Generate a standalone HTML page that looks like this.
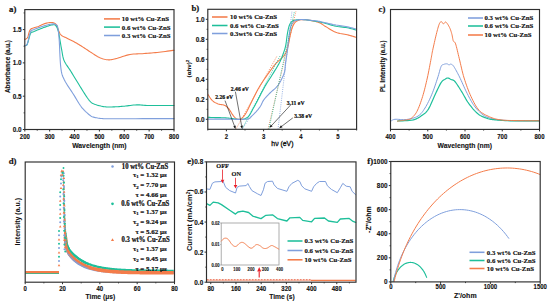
<!DOCTYPE html>
<html><head><meta charset="utf-8"><style>
html,body{margin:0;padding:0;background:#fff;}
svg{display:block;}
</style></head><body>
<svg width="550" height="304" viewBox="0 0 550 304">
<rect width="550" height="304" fill="#fff"/>
<text x="0" y="0" transform="translate(9.00,11.60) scale(1,0.95)" text-anchor="start" style="font-family:'Liberation Serif',serif;font-weight:bold;font-size:8.8px" fill="#111" stroke="#111" stroke-width="0.2" >a)</text>
<path d="M24.80,39.38 L24.89,39.35 L25.01,39.33 L25.15,39.30 L25.31,39.27 L25.49,39.22 L25.67,39.14 L25.86,39.04 L26.04,38.91 L26.23,38.77 L26.43,38.63 L26.64,38.49 L26.85,38.31 L27.07,38.09 L27.30,37.79 L27.54,37.41 L27.78,36.91 L28.03,36.25 L28.28,35.41 L28.53,34.46 L28.79,33.45 L29.07,32.44 L29.36,31.49 L29.68,30.65 L30.02,29.98 L30.39,29.49 L30.78,29.11 L31.19,28.82 L31.62,28.60 L32.06,28.43 L32.53,28.27 L33.01,28.11 L33.50,27.92 L34.01,27.72 L34.52,27.56 L35.05,27.41 L35.59,27.27 L36.17,27.13 L36.77,26.96 L37.41,26.76 L38.10,26.52 L38.86,26.21 L39.68,25.85 L40.55,25.45 L41.44,25.03 L42.35,24.62 L43.25,24.23 L44.12,23.88 L44.94,23.59 L45.74,23.35 L46.53,23.15 L47.32,22.98 L48.09,22.83 L48.83,22.72 L49.53,22.63 L50.20,22.56 L50.81,22.52 L51.37,22.51 L51.88,22.52 L52.34,22.55 L52.77,22.61 L53.18,22.70 L53.56,22.82 L53.93,22.96 L54.29,23.12 L54.64,23.30 L54.96,23.49 L55.26,23.70 L55.54,23.93 L55.81,24.21 L56.08,24.54 L56.35,24.93 L56.63,25.39 L56.91,25.95 L57.19,26.61 L57.47,27.35 L57.75,28.14 L58.03,28.94 L58.30,29.72 L58.58,30.46 L58.87,31.12 L59.13,31.71 L59.37,32.28 L59.60,32.82 L59.84,33.33 L60.10,33.82 L60.40,34.29 L60.77,34.74 L61.20,35.18 L61.71,35.58 L62.27,35.93 L62.87,36.26 L63.52,36.57 L64.22,36.88 L64.96,37.21 L65.75,37.57 L66.58,37.98 L67.47,38.43 L68.43,38.91 L69.45,39.42 L70.50,39.94 L71.58,40.48 L72.66,41.04 L73.74,41.60 L74.78,42.17 L75.81,42.75 L76.83,43.34 L77.86,43.95 L78.88,44.56 L79.91,45.19 L80.94,45.82 L81.96,46.46 L82.99,47.10 L84.01,47.76 L85.04,48.43 L86.07,49.11 L87.09,49.80 L88.12,50.48 L89.14,51.17 L90.17,51.84 L91.19,52.50 L92.22,53.16 L93.25,53.84 L94.27,54.52 L95.30,55.19 L96.32,55.83 L97.35,56.44 L98.37,57.00 L99.40,57.49 L100.43,57.94 L101.45,58.35 L102.48,58.72 L103.50,59.05 L104.53,59.33 L105.55,59.55 L106.58,59.72 L107.61,59.82 L108.59,59.86 L109.52,59.84 L110.42,59.76 L111.34,59.63 L112.30,59.45 L113.34,59.21 L114.50,58.94 L115.81,58.63 L117.30,58.23 L118.94,57.72 L120.69,57.15 L122.53,56.54 L124.41,55.94 L126.30,55.37 L128.17,54.88 L129.99,54.50 L131.75,54.23 L133.51,54.05 L135.27,53.93 L137.03,53.85 L138.79,53.80 L140.56,53.75 L142.35,53.68 L144.16,53.56 L145.99,53.42 L147.84,53.27 L149.70,53.12 L151.57,52.96 L153.45,52.80 L155.33,52.62 L157.21,52.43 L159.08,52.23 L161.05,52.00 L163.16,51.73 L165.33,51.44 L167.47,51.15 L169.50,50.87 L171.32,50.61 L172.85,50.39 L174.00,50.23" fill="none" stroke="#f47c4a" stroke-width="1.1" stroke-linejoin="round" stroke-linecap="round" />
<path d="M24.80,45.50 L24.98,45.48 L25.21,45.53 L25.49,45.59 L25.79,45.62 L26.13,45.57 L26.48,45.37 L26.85,44.99 L27.21,44.37 L27.59,43.41 L28.00,42.10 L28.43,40.56 L28.87,38.91 L29.32,37.25 L29.76,35.70 L30.19,34.38 L30.59,33.38 L30.92,32.75 L31.15,32.38 L31.34,32.20 L31.55,32.15 L31.81,32.14 L32.19,32.12 L32.73,32.00 L33.50,31.71 L34.55,31.27 L35.84,30.72 L37.31,30.11 L38.89,29.46 L40.52,28.81 L42.11,28.18 L43.61,27.60 L44.94,27.12 L46.15,26.70 L47.33,26.30 L48.47,25.93 L49.55,25.59 L50.57,25.31 L51.51,25.07 L52.35,24.90 L53.10,24.79 L53.72,24.74 L54.21,24.73 L54.60,24.78 L54.92,24.88 L55.19,25.05 L55.45,25.27 L55.71,25.56 L56.01,25.92 L56.33,26.35 L56.64,26.84 L56.94,27.39 L57.23,28.01 L57.51,28.70 L57.78,29.44 L58.04,30.25 L58.30,31.12 L58.54,32.07 L58.77,33.12 L58.98,34.25 L59.19,35.43 L59.39,36.65 L59.60,37.88 L59.80,39.11 L60.01,40.31 L60.22,41.48 L60.42,42.66 L60.61,43.84 L60.81,45.03 L61.01,46.24 L61.22,47.46 L61.45,48.70 L61.70,49.97 L61.95,51.27 L62.17,52.61 L62.39,53.97 L62.64,55.35 L62.92,56.73 L63.26,58.11 L63.68,59.48 L64.19,60.82 L64.79,62.10 L65.46,63.31 L66.20,64.48 L67.00,65.66 L67.86,66.89 L68.78,68.21 L69.76,69.66 L70.80,71.28 L71.95,73.14 L73.21,75.22 L74.57,77.44 L75.97,79.75 L77.38,82.07 L78.76,84.33 L80.08,86.46 L81.30,88.40 L82.43,90.20 L83.52,91.94 L84.57,93.61 L85.58,95.19 L86.54,96.67 L87.47,98.03 L88.36,99.26 L89.20,100.32 L89.96,101.20 L90.59,101.89 L91.15,102.42 L91.69,102.84 L92.25,103.19 L92.87,103.50 L93.61,103.82 L94.50,104.19 L95.57,104.59 L96.79,104.99 L98.11,105.37 L99.50,105.72 L100.92,106.05 L102.33,106.34 L103.70,106.59 L104.99,106.79 L106.21,106.92 L107.39,107.00 L108.55,107.03 L109.69,107.02 L110.83,106.99 L111.97,106.95 L113.13,106.90 L114.32,106.85 L115.52,106.81 L116.70,106.75 L117.90,106.69 L119.10,106.61 L120.33,106.52 L121.59,106.42 L122.90,106.31 L124.27,106.19 L125.70,106.04 L127.20,105.85 L128.75,105.65 L130.33,105.44 L131.93,105.24 L133.53,105.06 L135.13,104.93 L136.70,104.85 L138.17,104.85 L139.52,104.90 L140.82,104.99 L142.14,105.10 L143.56,105.23 L145.15,105.35 L146.98,105.45 L149.13,105.52 L151.82,105.55 L155.06,105.57 L158.64,105.57 L162.34,105.56 L165.95,105.55 L169.24,105.54 L172.00,105.52 L174.00,105.52" fill="none" stroke="#1ebf9a" stroke-width="1.1" stroke-linejoin="round" stroke-linecap="round" />
<path d="M24.80,45.57 L24.98,45.51 L25.21,45.52 L25.49,45.54 L25.79,45.51 L26.13,45.38 L26.48,45.11 L26.85,44.63 L27.21,43.90 L27.59,42.80 L28.00,41.33 L28.43,39.60 L28.87,37.76 L29.32,35.91 L29.76,34.18 L30.19,32.69 L30.59,31.58 L30.92,30.86 L31.15,30.43 L31.34,30.22 L31.55,30.14 L31.81,30.12 L32.19,30.10 L32.73,29.99 L33.50,29.72 L34.55,29.29 L35.84,28.79 L37.32,28.23 L38.91,27.64 L40.53,27.05 L42.13,26.50 L43.62,26.00 L44.94,25.59 L46.14,25.24 L47.29,24.93 L48.39,24.66 L49.43,24.43 L50.41,24.24 L51.32,24.09 L52.15,23.99 L52.90,23.92 L53.54,23.91 L54.08,23.96 L54.53,24.06 L54.92,24.19 L55.25,24.36 L55.56,24.54 L55.84,24.73 L56.13,24.92 L56.40,25.05 L56.63,25.12 L56.82,25.16 L56.99,25.23 L57.14,25.39 L57.29,25.69 L57.45,26.18 L57.62,26.92 L57.81,27.83 L57.99,28.82 L58.17,29.95 L58.36,31.25 L58.54,32.75 L58.73,34.51 L58.92,36.54 L59.12,38.91 L59.31,41.81 L59.49,45.29 L59.66,49.16 L59.84,53.23 L60.04,57.30 L60.26,61.17 L60.51,64.65 L60.81,67.55 L61.11,69.83 L61.40,71.66 L61.70,73.15 L62.03,74.42 L62.42,75.58 L62.89,76.75 L63.48,78.03 L64.19,79.54 L65.07,81.26 L66.11,83.07 L67.27,84.93 L68.51,86.83 L69.78,88.73 L71.04,90.62 L72.26,92.44 L73.39,94.20 L74.44,95.90 L75.46,97.60 L76.45,99.27 L77.42,100.91 L78.39,102.50 L79.35,104.01 L80.32,105.45 L81.30,106.79 L82.30,108.04 L83.34,109.22 L84.38,110.33 L85.41,111.37 L86.43,112.33 L87.41,113.21 L88.34,114.01 L89.20,114.71 L89.96,115.31 L90.59,115.78 L91.15,116.16 L91.69,116.46 L92.25,116.71 L92.87,116.93 L93.61,117.14 L94.50,117.38 L95.50,117.62 L96.55,117.83 L97.67,118.03 L98.87,118.21 L100.19,118.37 L101.63,118.50 L103.23,118.62 L104.99,118.71 L106.78,118.77 L108.48,118.81 L110.24,118.81 L112.18,118.80 L114.42,118.78 L117.10,118.75 L120.34,118.72 L124.27,118.71 L129.37,118.70 L135.72,118.68 L142.87,118.66 L150.34,118.64 L157.65,118.62 L164.35,118.60 L169.95,118.59 L174.00,118.58" fill="none" stroke="#7f9fdc" stroke-width="1.1" stroke-linejoin="round" stroke-linecap="round" />
<rect x="24.80" y="9.60" width="149.20" height="119.90" fill="none" stroke="#2e2e2e" stroke-width="1.15"/>
<line x1="24.80" y1="129.50" x2="24.80" y2="131.50" stroke="#2e2e2e" stroke-width="1"/>
<text x="0" y="0" transform="translate(24.80,138.50) scale(1,1.15)" text-anchor="middle" style="font-family:'Liberation Sans',sans-serif;font-weight:bold;font-size:6px" fill="#111" stroke="#111" stroke-width="0.12">200</text>
<line x1="49.67" y1="129.50" x2="49.67" y2="131.50" stroke="#2e2e2e" stroke-width="1"/>
<text x="0" y="0" transform="translate(49.67,138.50) scale(1,1.15)" text-anchor="middle" style="font-family:'Liberation Sans',sans-serif;font-weight:bold;font-size:6px" fill="#111" stroke="#111" stroke-width="0.12">300</text>
<line x1="74.53" y1="129.50" x2="74.53" y2="131.50" stroke="#2e2e2e" stroke-width="1"/>
<text x="0" y="0" transform="translate(74.53,138.50) scale(1,1.15)" text-anchor="middle" style="font-family:'Liberation Sans',sans-serif;font-weight:bold;font-size:6px" fill="#111" stroke="#111" stroke-width="0.12">400</text>
<line x1="99.40" y1="129.50" x2="99.40" y2="131.50" stroke="#2e2e2e" stroke-width="1"/>
<text x="0" y="0" transform="translate(99.40,138.50) scale(1,1.15)" text-anchor="middle" style="font-family:'Liberation Sans',sans-serif;font-weight:bold;font-size:6px" fill="#111" stroke="#111" stroke-width="0.12">500</text>
<line x1="124.27" y1="129.50" x2="124.27" y2="131.50" stroke="#2e2e2e" stroke-width="1"/>
<text x="0" y="0" transform="translate(124.27,138.50) scale(1,1.15)" text-anchor="middle" style="font-family:'Liberation Sans',sans-serif;font-weight:bold;font-size:6px" fill="#111" stroke="#111" stroke-width="0.12">600</text>
<line x1="149.13" y1="129.50" x2="149.13" y2="131.50" stroke="#2e2e2e" stroke-width="1"/>
<text x="0" y="0" transform="translate(149.13,138.50) scale(1,1.15)" text-anchor="middle" style="font-family:'Liberation Sans',sans-serif;font-weight:bold;font-size:6px" fill="#111" stroke="#111" stroke-width="0.12">700</text>
<line x1="174.00" y1="129.50" x2="174.00" y2="131.50" stroke="#2e2e2e" stroke-width="1"/>
<text x="0" y="0" transform="translate(174.00,138.50) scale(1,1.15)" text-anchor="middle" style="font-family:'Liberation Sans',sans-serif;font-weight:bold;font-size:6px" fill="#111" stroke="#111" stroke-width="0.12">800</text>
<line x1="37.23" y1="129.50" x2="37.23" y2="130.70" stroke="#2e2e2e" stroke-width="0.9"/>
<line x1="62.10" y1="129.50" x2="62.10" y2="130.70" stroke="#2e2e2e" stroke-width="0.9"/>
<line x1="86.97" y1="129.50" x2="86.97" y2="130.70" stroke="#2e2e2e" stroke-width="0.9"/>
<line x1="111.83" y1="129.50" x2="111.83" y2="130.70" stroke="#2e2e2e" stroke-width="0.9"/>
<line x1="136.70" y1="129.50" x2="136.70" y2="130.70" stroke="#2e2e2e" stroke-width="0.9"/>
<line x1="161.57" y1="129.50" x2="161.57" y2="130.70" stroke="#2e2e2e" stroke-width="0.9"/>
<line x1="22.80" y1="129.50" x2="24.80" y2="129.50" stroke="#2e2e2e" stroke-width="1"/>
<text x="0" y="0" transform="translate(21.50,132.00) scale(1,1.15)" text-anchor="end" style="font-family:'Liberation Sans',sans-serif;font-weight:bold;font-size:6.4px" fill="#111" stroke="#111" stroke-width="0.12">0.0</text>
<line x1="22.80" y1="96.19" x2="24.80" y2="96.19" stroke="#2e2e2e" stroke-width="1"/>
<text x="0" y="0" transform="translate(21.50,98.69) scale(1,1.15)" text-anchor="end" style="font-family:'Liberation Sans',sans-serif;font-weight:bold;font-size:6.4px" fill="#111" stroke="#111" stroke-width="0.12">0.5</text>
<line x1="22.80" y1="62.89" x2="24.80" y2="62.89" stroke="#2e2e2e" stroke-width="1"/>
<text x="0" y="0" transform="translate(21.50,65.39) scale(1,1.15)" text-anchor="end" style="font-family:'Liberation Sans',sans-serif;font-weight:bold;font-size:6.4px" fill="#111" stroke="#111" stroke-width="0.12">1.0</text>
<line x1="22.80" y1="29.58" x2="24.80" y2="29.58" stroke="#2e2e2e" stroke-width="1"/>
<text x="0" y="0" transform="translate(21.50,32.08) scale(1,1.15)" text-anchor="end" style="font-family:'Liberation Sans',sans-serif;font-weight:bold;font-size:6.4px" fill="#111" stroke="#111" stroke-width="0.12">1.5</text>
<line x1="23.60" y1="112.85" x2="24.80" y2="112.85" stroke="#2e2e2e" stroke-width="0.9"/>
<line x1="23.60" y1="79.54" x2="24.80" y2="79.54" stroke="#2e2e2e" stroke-width="0.9"/>
<line x1="23.60" y1="46.24" x2="24.80" y2="46.24" stroke="#2e2e2e" stroke-width="0.9"/>
<line x1="23.60" y1="12.93" x2="24.80" y2="12.93" stroke="#2e2e2e" stroke-width="0.9"/>
<text x="0" y="0" transform="translate(99.40,147.50) scale(1,1.08)" text-anchor="middle" style="font-family:'Liberation Sans',sans-serif;font-weight:bold;font-size:6.8px" fill="#111" stroke="#111" stroke-width="0.1" >Wavelength (nm)</text>
<text x="0" y="0" text-anchor="middle" transform="translate(9.60,66.60) rotate(-90) scale(1,1.15)" style="font-family:'Liberation Sans',sans-serif;font-weight:bold;font-size:6.3px" fill="#111" stroke="#111" stroke-width="0.12">Absorbance (a.u.)</text>
<line x1="104" y1="18.9" x2="120" y2="18.9" stroke="#f47c4a" stroke-width="1.55"/>
<text x="0" y="0" transform="translate(121.80,21.30) scale(1,1.03)" text-anchor="start" style="font-family:'Liberation Serif',serif;font-weight:bold;font-size:6.8px" fill="#111" stroke="#111" stroke-width="0.16" >10 wt% Cu-ZnS</text>
<line x1="104" y1="27.1" x2="120" y2="27.1" stroke="#1ebf9a" stroke-width="1.55"/>
<text x="0" y="0" transform="translate(121.80,29.50) scale(1,1.03)" text-anchor="start" style="font-family:'Liberation Serif',serif;font-weight:bold;font-size:6.8px" fill="#111" stroke="#111" stroke-width="0.16" >0.6 wt% Cu-ZnS</text>
<line x1="104" y1="35.5" x2="120" y2="35.5" stroke="#7f9fdc" stroke-width="1.55"/>
<text x="0" y="0" transform="translate(121.80,37.90) scale(1,1.03)" text-anchor="start" style="font-family:'Liberation Serif',serif;font-weight:bold;font-size:6.8px" fill="#111" stroke="#111" stroke-width="0.16" >0.3 wt% Cu-ZnS</text>
<text x="0" y="0" transform="translate(191.40,11.40) scale(1,0.95)" text-anchor="start" style="font-family:'Liberation Serif',serif;font-weight:bold;font-size:8.8px" fill="#111" stroke="#111" stroke-width="0.2" >b)</text>
<g clip-path="url(#clipb)">
<clipPath id="clipb"><rect x="207.8" y="9.3" width="148.8" height="120"/></clipPath>
<path d="M207.80,94.20 L208.15,94.71 L208.60,95.42 L209.13,96.26 L209.73,97.19 L210.38,98.14 L211.05,99.06 L211.73,99.90 L212.40,100.60 L213.07,101.18 L213.78,101.71 L214.51,102.19 L215.26,102.62 L216.02,103.02 L216.79,103.37 L217.55,103.70 L218.30,104.00 L219.06,104.24 L219.83,104.40 L220.61,104.51 L221.39,104.59 L222.16,104.68 L222.91,104.79 L223.63,104.95 L224.30,105.20 L224.93,105.51 L225.51,105.84 L226.07,106.20 L226.60,106.61 L227.12,107.05 L227.64,107.55 L228.16,108.09 L228.70,108.70 L229.25,109.41 L229.81,110.22 L230.37,111.11 L230.93,112.04 L231.49,112.97 L232.04,113.87 L232.57,114.69 L233.10,115.40 L233.61,116.03 L234.10,116.61 L234.58,117.15 L235.06,117.64 L235.53,118.08 L236.01,118.45 L236.50,118.76 L237.00,119.00 L237.52,119.18 L238.04,119.30 L238.57,119.37 L239.10,119.37 L239.64,119.31 L240.19,119.16 L240.74,118.93 L241.30,118.60 L241.86,118.20 L242.40,117.74 L242.95,117.21 L243.51,116.59 L244.09,115.87 L244.69,115.04 L245.32,114.09 L246.00,113.00 L246.72,111.73 L247.48,110.29 L248.27,108.70 L249.09,107.01 L249.93,105.25 L250.78,103.47 L251.64,101.71 L252.50,100.00 L253.36,98.31 L254.23,96.58 L255.12,94.83 L256.01,93.07 L256.92,91.33 L257.83,89.61 L258.76,87.93 L259.70,86.30 L260.65,84.73 L261.63,83.19 L262.61,81.68 L263.61,80.21 L264.61,78.75 L265.61,77.32 L266.61,75.90 L267.60,74.50 L268.60,73.08 L269.61,71.65 L270.64,70.23 L271.66,68.83 L272.66,67.47 L273.64,66.18 L274.59,64.99 L275.50,63.90 L276.37,62.94 L277.22,62.10 L278.04,61.35 L278.84,60.67 L279.60,60.03 L280.34,59.40 L281.04,58.77 L281.70,58.10 L282.32,57.43 L282.91,56.80 L283.46,56.19 L283.98,55.58 L284.47,54.95 L284.94,54.29 L285.38,53.58 L285.80,52.80 L286.19,51.96 L286.55,51.08 L286.88,50.15 L287.18,49.19 L287.47,48.20 L287.75,47.16 L288.02,46.10 L288.30,45.00 L288.57,43.84 L288.83,42.61 L289.08,41.32 L289.32,40.01 L289.56,38.70 L289.80,37.41 L290.04,36.17 L290.30,35.00 L290.56,33.88 L290.82,32.79 L291.08,31.72 L291.34,30.69 L291.61,29.69 L291.89,28.74 L292.19,27.84 L292.50,27.00 L292.83,26.21 L293.17,25.47 L293.52,24.77 L293.89,24.12 L294.27,23.52 L294.66,22.97 L295.07,22.46 L295.50,22.00 L295.96,21.60 L296.45,21.25 L296.96,20.96 L297.49,20.71 L298.01,20.50 L298.53,20.32 L299.03,20.15 L299.50,20.00 L299.92,19.87 L300.28,19.76 L300.62,19.69 L300.95,19.64 L301.30,19.61 L301.69,19.59 L302.15,19.59 L302.70,19.60 L303.32,19.61 L303.99,19.64 L304.70,19.67 L305.46,19.72 L306.28,19.79 L307.16,19.89 L308.10,20.03 L309.10,20.20 L310.22,20.41 L311.47,20.66 L312.82,20.94 L314.21,21.25 L315.59,21.58 L316.94,21.94 L318.19,22.31 L319.30,22.70 L320.25,23.10 L321.06,23.51 L321.78,23.94 L322.45,24.39 L323.12,24.87 L323.84,25.38 L324.65,25.92 L325.60,26.50 L326.68,27.15 L327.85,27.89 L329.08,28.67 L330.38,29.48 L331.71,30.28 L333.07,31.04 L334.44,31.72 L335.80,32.30 L337.19,32.77 L338.64,33.15 L340.11,33.47 L341.61,33.75 L343.09,34.00 L344.55,34.25 L345.96,34.51 L347.30,34.80 L348.63,35.14 L350.00,35.50 L351.36,35.88 L352.67,36.26 L353.89,36.61 L354.98,36.93 L355.90,37.20 L356.60,37.40" fill="none" stroke="#f47c4a" stroke-width="1.1" stroke-linejoin="round" stroke-linecap="round" />
<path d="M207.80,117.30 L208.34,117.32 L209.03,117.36 L209.85,117.39 L210.78,117.44 L211.78,117.48 L212.83,117.53 L213.92,117.57 L215.00,117.60 L216.14,117.63 L217.38,117.65 L218.69,117.66 L220.03,117.67 L221.37,117.69 L222.67,117.72 L223.89,117.75 L225.00,117.80 L225.98,117.86 L226.86,117.94 L227.66,118.02 L228.42,118.11 L229.17,118.20 L229.95,118.30 L230.78,118.40 L231.70,118.50 L232.72,118.63 L233.81,118.79 L234.94,118.97 L236.11,119.15 L237.28,119.30 L238.43,119.41 L239.54,119.45 L240.60,119.40 L241.61,119.30 L242.59,119.18 L243.55,119.03 L244.49,118.81 L245.40,118.51 L246.29,118.11 L247.16,117.58 L248.00,116.90 L248.82,116.01 L249.63,114.92 L250.41,113.68 L251.17,112.34 L251.90,110.97 L252.60,109.62 L253.27,108.34 L253.90,107.20 L254.46,106.22 L254.94,105.38 L255.36,104.60 L255.77,103.85 L256.18,103.07 L256.64,102.20 L257.17,101.19 L257.80,100.00 L258.55,98.58 L259.38,96.96 L260.28,95.20 L261.23,93.36 L262.20,91.49 L263.16,89.65 L264.11,87.90 L265.00,86.30 L265.84,84.85 L266.66,83.51 L267.46,82.25 L268.26,81.02 L269.06,79.79 L269.87,78.54 L270.72,77.22 L271.60,75.80 L272.55,74.26 L273.57,72.61 L274.63,70.91 L275.71,69.17 L276.76,67.43 L277.76,65.74 L278.69,64.12 L279.50,62.60 L280.21,61.18 L280.84,59.82 L281.40,58.51 L281.91,57.25 L282.37,56.03 L282.80,54.86 L283.20,53.71 L283.60,52.60 L283.97,51.57 L284.30,50.63 L284.59,49.77 L284.85,48.93 L285.10,48.07 L285.33,47.15 L285.56,46.14 L285.80,45.00 L286.03,43.68 L286.25,42.22 L286.46,40.65 L286.66,39.02 L286.86,37.40 L287.07,35.82 L287.28,34.34 L287.50,33.00 L287.73,31.78 L287.96,30.62 L288.18,29.53 L288.42,28.50 L288.66,27.53 L288.92,26.62 L289.20,25.78 L289.50,25.00 L289.82,24.29 L290.17,23.65 L290.53,23.08 L290.91,22.56 L291.29,22.10 L291.69,21.70 L292.09,21.33 L292.50,21.00 L292.89,20.73 L293.26,20.53 L293.64,20.38 L294.02,20.28 L294.43,20.21 L294.89,20.14 L295.41,20.08 L296.00,20.00 L296.64,19.90 L297.31,19.79 L298.01,19.68 L298.77,19.58 L299.60,19.50 L300.52,19.46 L301.55,19.45 L302.70,19.50 L304.04,19.61 L305.59,19.77 L307.28,19.99 L309.04,20.23 L310.81,20.48 L312.52,20.74 L314.11,20.98 L315.50,21.20 L316.67,21.39 L317.68,21.55 L318.56,21.70 L319.39,21.86 L320.20,22.02 L321.05,22.21 L322.00,22.43 L323.10,22.70 L324.33,23.03 L325.65,23.41 L327.04,23.83 L328.48,24.27 L329.96,24.72 L331.46,25.15 L332.98,25.55 L334.50,25.90 L336.06,26.20 L337.68,26.46 L339.35,26.69 L341.03,26.91 L342.69,27.12 L344.31,27.33 L345.86,27.55 L347.30,27.80 L348.69,28.08 L350.09,28.40 L351.45,28.73 L352.75,29.07 L353.95,29.39 L355.01,29.68 L355.91,29.92 L356.60,30.10" fill="none" stroke="#1ebf9a" stroke-width="1.1" stroke-linejoin="round" stroke-linecap="round" />
<path d="M207.80,119.10 L209.10,119.10 L210.79,119.10 L212.80,119.10 L215.06,119.10 L217.48,119.10 L219.99,119.10 L222.53,119.10 L225.00,119.10 L227.59,119.13 L230.44,119.19 L233.43,119.26 L236.46,119.33 L239.39,119.37 L242.12,119.36 L244.53,119.28 L246.50,119.10 L247.97,118.85 L249.04,118.54 L249.79,118.18 L250.33,117.76 L250.76,117.28 L251.19,116.73 L251.70,116.10 L252.40,115.40 L253.28,114.58 L254.23,113.64 L255.22,112.61 L256.23,111.52 L257.22,110.40 L258.16,109.29 L259.03,108.21 L259.80,107.20 L260.44,106.25 L260.96,105.33 L261.41,104.42 L261.82,103.52 L262.22,102.64 L262.64,101.76 L263.12,100.88 L263.70,100.00 L264.36,99.12 L265.06,98.26 L265.80,97.40 L266.58,96.55 L267.39,95.69 L268.24,94.82 L269.11,93.92 L270.00,93.00 L270.95,92.08 L271.97,91.16 L273.03,90.25 L274.12,89.31 L275.20,88.34 L276.26,87.30 L277.27,86.20 L278.20,85.00 L279.09,83.68 L279.96,82.23 L280.82,80.70 L281.63,79.11 L282.39,77.51 L283.08,75.94 L283.69,74.42 L284.20,73.00 L284.58,71.69 L284.84,70.48 L285.00,69.31 L285.10,68.18 L285.17,67.03 L285.24,65.84 L285.34,64.57 L285.50,63.20 L285.72,61.73 L285.96,60.18 L286.21,58.58 L286.47,56.93 L286.74,55.23 L287.00,53.51 L287.26,51.76 L287.50,50.00 L287.73,48.17 L287.94,46.24 L288.16,44.24 L288.36,42.24 L288.57,40.26 L288.77,38.37 L288.98,36.60 L289.20,35.00 L289.41,33.56 L289.61,32.22 L289.81,30.99 L290.02,29.84 L290.23,28.78 L290.46,27.79 L290.72,26.87 L291.00,26.00 L291.31,25.20 L291.65,24.49 L292.02,23.85 L292.39,23.28 L292.79,22.77 L293.19,22.31 L293.59,21.89 L294.00,21.50 L294.40,21.16 L294.80,20.89 L295.20,20.67 L295.61,20.49 L296.04,20.35 L296.49,20.23 L296.98,20.11 L297.50,20.00 L298.02,19.89 L298.50,19.79 L298.99,19.70 L299.52,19.63 L300.12,19.58 L300.83,19.56 L301.67,19.57 L302.70,19.60 L303.97,19.67 L305.49,19.78 L307.17,19.92 L308.95,20.09 L310.75,20.27 L312.49,20.45 L314.10,20.63 L315.50,20.80 L316.67,20.96 L317.68,21.11 L318.56,21.26 L319.39,21.41 L320.20,21.58 L321.05,21.76 L322.00,21.97 L323.10,22.20 L324.33,22.47 L325.65,22.78 L327.04,23.11 L328.48,23.46 L329.96,23.82 L331.46,24.16 L332.98,24.50 L334.50,24.80 L336.06,25.08 L337.68,25.33 L339.35,25.58 L341.03,25.81 L342.69,26.05 L344.31,26.29 L345.86,26.53 L347.30,26.80 L348.69,27.10 L350.09,27.43 L351.45,27.78 L352.75,28.12 L353.95,28.46 L355.01,28.76 L355.91,29.01 L356.60,29.20" fill="none" stroke="#7f9fdc" stroke-width="1.1" stroke-linejoin="round" stroke-linecap="round" />
<line x1="235.8" y1="129.3" x2="277" y2="56" stroke="#f47c4a" stroke-width="0.8" stroke-dasharray="1 1.2"/>
<line x1="242" y1="129.3" x2="280" y2="56" stroke="#1ebf9a" stroke-width="0.8" stroke-dasharray="1 1.2"/>
<line x1="242" y1="129.3" x2="251" y2="116" stroke="#7f9fdc" stroke-width="0.8" stroke-dasharray="1 1.2"/>
<line x1="268" y1="129.3" x2="296" y2="11" stroke="#f47c4a" stroke-width="0.8" stroke-dasharray="1 1.2"/>
<line x1="268.8" y1="129.3" x2="294.5" y2="11" stroke="#1ebf9a" stroke-width="0.8" stroke-dasharray="1 1.2"/>
<line x1="278" y1="129.3" x2="292" y2="11" stroke="#7f9fdc" stroke-width="0.8" stroke-dasharray="1 1.2"/>
</g>
<line x1="225" y1="100.6" x2="234.48" y2="126.00" stroke="#111" stroke-width="0.6"/>
<polygon points="235.6,129.0 233.26,126.46 235.70,125.55" fill="#111"/>
<line x1="235.4" y1="91.7" x2="241.63" y2="125.85" stroke="#111" stroke-width="0.6"/>
<polygon points="242.2,129.0 240.35,126.09 242.91,125.62" fill="#111"/>
<line x1="290.6" y1="105" x2="271.67" y2="125.45" stroke="#111" stroke-width="0.6"/>
<polygon points="269.5,127.8 270.72,124.57 272.63,126.33" fill="#111"/>
<line x1="292.8" y1="117.9" x2="281.75" y2="126.27" stroke="#111" stroke-width="0.6"/>
<polygon points="279.2,128.2 280.97,125.23 282.54,127.30" fill="#111"/>
<text x="0" y="0" transform="translate(215.20,99.00) scale(1,1.1)" text-anchor="start" style="font-family:'Liberation Serif',serif;font-weight:bold;font-size:5.7px" fill="#111" stroke="#111" stroke-width="0.22" >2.26 eV</text>
<text x="0" y="0" transform="translate(230.80,90.60) scale(1,1.1)" text-anchor="start" style="font-family:'Liberation Serif',serif;font-weight:bold;font-size:5.7px" fill="#111" stroke="#111" stroke-width="0.22" >2.46 eV</text>
<text x="0" y="0" transform="translate(286.80,104.80) scale(1,1.1)" text-anchor="start" style="font-family:'Liberation Serif',serif;font-weight:bold;font-size:5.7px" fill="#111" stroke="#111" stroke-width="0.22" >3.11 eV</text>
<text x="0" y="0" transform="translate(294.20,118.00) scale(1,1.1)" text-anchor="start" style="font-family:'Liberation Serif',serif;font-weight:bold;font-size:5.7px" fill="#111" stroke="#111" stroke-width="0.22" >3.38 eV</text>
<rect x="207.80" y="9.30" width="148.80" height="120.00" fill="none" stroke="#2e2e2e" stroke-width="1.15"/>
<line x1="226.40" y1="129.30" x2="226.40" y2="131.30" stroke="#2e2e2e" stroke-width="1"/>
<text x="0" y="0" transform="translate(226.40,138.70) scale(1,1.15)" text-anchor="middle" style="font-family:'Liberation Sans',sans-serif;font-weight:bold;font-size:6px" fill="#111" stroke="#111" stroke-width="0.12">2</text>
<line x1="263.60" y1="129.30" x2="263.60" y2="131.30" stroke="#2e2e2e" stroke-width="1"/>
<text x="0" y="0" transform="translate(263.60,138.70) scale(1,1.15)" text-anchor="middle" style="font-family:'Liberation Sans',sans-serif;font-weight:bold;font-size:6px" fill="#111" stroke="#111" stroke-width="0.12">3</text>
<line x1="300.80" y1="129.30" x2="300.80" y2="131.30" stroke="#2e2e2e" stroke-width="1"/>
<text x="0" y="0" transform="translate(300.80,138.70) scale(1,1.15)" text-anchor="middle" style="font-family:'Liberation Sans',sans-serif;font-weight:bold;font-size:6px" fill="#111" stroke="#111" stroke-width="0.12">4</text>
<line x1="338.00" y1="129.30" x2="338.00" y2="131.30" stroke="#2e2e2e" stroke-width="1"/>
<text x="0" y="0" transform="translate(338.00,138.70) scale(1,1.15)" text-anchor="middle" style="font-family:'Liberation Sans',sans-serif;font-weight:bold;font-size:6px" fill="#111" stroke="#111" stroke-width="0.12">5</text>
<line x1="207.80" y1="129.30" x2="207.80" y2="130.50" stroke="#2e2e2e" stroke-width="0.9"/>
<line x1="245.00" y1="129.30" x2="245.00" y2="130.50" stroke="#2e2e2e" stroke-width="0.9"/>
<line x1="282.20" y1="129.30" x2="282.20" y2="130.50" stroke="#2e2e2e" stroke-width="0.9"/>
<line x1="319.40" y1="129.30" x2="319.40" y2="130.50" stroke="#2e2e2e" stroke-width="0.9"/>
<line x1="356.60" y1="129.30" x2="356.60" y2="130.50" stroke="#2e2e2e" stroke-width="0.9"/>
<line x1="205.80" y1="119.30" x2="207.80" y2="119.30" stroke="#2e2e2e" stroke-width="1"/>
<text x="0" y="0" transform="translate(204.50,121.80) scale(1,1.15)" text-anchor="end" style="font-family:'Liberation Sans',sans-serif;font-weight:bold;font-size:6.4px" fill="#111" stroke="#111" stroke-width="0.12">0.0</text>
<line x1="205.80" y1="99.30" x2="207.80" y2="99.30" stroke="#2e2e2e" stroke-width="1"/>
<text x="0" y="0" transform="translate(204.50,101.80) scale(1,1.15)" text-anchor="end" style="font-family:'Liberation Sans',sans-serif;font-weight:bold;font-size:6.4px" fill="#111" stroke="#111" stroke-width="0.12">0.2</text>
<line x1="205.80" y1="79.30" x2="207.80" y2="79.30" stroke="#2e2e2e" stroke-width="1"/>
<text x="0" y="0" transform="translate(204.50,81.80) scale(1,1.15)" text-anchor="end" style="font-family:'Liberation Sans',sans-serif;font-weight:bold;font-size:6.4px" fill="#111" stroke="#111" stroke-width="0.12">0.4</text>
<line x1="205.80" y1="59.30" x2="207.80" y2="59.30" stroke="#2e2e2e" stroke-width="1"/>
<text x="0" y="0" transform="translate(204.50,61.80) scale(1,1.15)" text-anchor="end" style="font-family:'Liberation Sans',sans-serif;font-weight:bold;font-size:6.4px" fill="#111" stroke="#111" stroke-width="0.12">0.6</text>
<line x1="205.80" y1="39.30" x2="207.80" y2="39.30" stroke="#2e2e2e" stroke-width="1"/>
<text x="0" y="0" transform="translate(204.50,41.80) scale(1,1.15)" text-anchor="end" style="font-family:'Liberation Sans',sans-serif;font-weight:bold;font-size:6.4px" fill="#111" stroke="#111" stroke-width="0.12">0.8</text>
<line x1="205.80" y1="19.30" x2="207.80" y2="19.30" stroke="#2e2e2e" stroke-width="1"/>
<text x="0" y="0" transform="translate(204.50,21.80) scale(1,1.15)" text-anchor="end" style="font-family:'Liberation Sans',sans-serif;font-weight:bold;font-size:6.4px" fill="#111" stroke="#111" stroke-width="0.12">1.0</text>
<line x1="206.60" y1="109.30" x2="207.80" y2="109.30" stroke="#2e2e2e" stroke-width="0.9"/>
<line x1="206.60" y1="89.30" x2="207.80" y2="89.30" stroke="#2e2e2e" stroke-width="0.9"/>
<line x1="206.60" y1="69.30" x2="207.80" y2="69.30" stroke="#2e2e2e" stroke-width="0.9"/>
<line x1="206.60" y1="49.30" x2="207.80" y2="49.30" stroke="#2e2e2e" stroke-width="0.9"/>
<line x1="206.60" y1="29.30" x2="207.80" y2="29.30" stroke="#2e2e2e" stroke-width="0.9"/>
<text x="0" y="0" transform="translate(282.40,146.20) scale(1,1.05)" text-anchor="middle" style="font-family:'Liberation Sans',sans-serif;font-weight:normal;font-size:6.9px" fill="#111" stroke="#111" stroke-width="0.3" >h&#957; (eV)</text>
<text x="0" y="0" text-anchor="middle" transform="translate(191.4,68.6) rotate(-90)" style="font-family:'Liberation Sans',sans-serif;font-weight:bold;font-size:6.2px" fill="#111" stroke="#111" stroke-width="0.1">(&#945;h&#957;)<tspan dy="-2.2" style="font-size:4.4px">2</tspan></text>
<line x1="212" y1="17.0" x2="227.5" y2="17.0" stroke="#f47c4a" stroke-width="1.55"/>
<text x="0" y="0" transform="translate(230.00,19.40) scale(1,1.03)" text-anchor="start" style="font-family:'Liberation Serif',serif;font-weight:bold;font-size:6.8px" fill="#111" stroke="#111" stroke-width="0.16" >10 wt% Cu-ZnS</text>
<line x1="212" y1="25.5" x2="227.5" y2="25.5" stroke="#1ebf9a" stroke-width="1.55"/>
<text x="0" y="0" transform="translate(230.00,27.90) scale(1,1.03)" text-anchor="start" style="font-family:'Liberation Serif',serif;font-weight:bold;font-size:6.8px" fill="#111" stroke="#111" stroke-width="0.16" >0.6 wt% Cu-ZnS</text>
<line x1="212" y1="33.5" x2="227.5" y2="33.5" stroke="#7f9fdc" stroke-width="1.55"/>
<text x="0" y="0" transform="translate(230.00,35.90) scale(1,1.03)" text-anchor="start" style="font-family:'Liberation Serif',serif;font-weight:bold;font-size:6.8px" fill="#111" stroke="#111" stroke-width="0.16" >0.3wt% Cu-ZnS</text>
<text x="0" y="0" transform="translate(378.60,11.60) scale(1,0.95)" text-anchor="start" style="font-family:'Liberation Serif',serif;font-weight:bold;font-size:8.8px" fill="#111" stroke="#111" stroke-width="0.2" >c)</text>
<path d="M390.80,121.20 L391.07,121.04 L391.38,120.81 L391.75,120.53 L392.18,120.24 L392.71,119.94 L393.34,119.67 L394.10,119.45 L395.00,119.30 L396.09,119.25 L397.36,119.29 L398.78,119.38 L400.29,119.49 L401.87,119.60 L403.45,119.65 L405.01,119.63 L406.50,119.50 L407.97,119.28 L409.48,119.01 L411.01,118.70 L412.53,118.32 L414.02,117.88 L415.44,117.36 L416.78,116.77 L418.00,116.10 L419.09,115.35 L420.07,114.54 L420.96,113.66 L421.79,112.70 L422.58,111.66 L423.36,110.54 L424.16,109.32 L425.00,108.00 L425.88,106.56 L426.76,105.01 L427.65,103.35 L428.53,101.61 L429.40,99.80 L430.26,97.95 L431.10,96.08 L431.90,94.20 L432.68,92.26 L433.46,90.21 L434.22,88.09 L434.96,85.96 L435.68,83.84 L436.36,81.78 L437.00,79.82 L437.60,78.00 L438.15,76.27 L438.66,74.57 L439.12,72.93 L439.56,71.36 L439.96,69.91 L440.35,68.60 L440.73,67.45 L441.10,66.50 L441.45,65.79 L441.76,65.30 L442.04,65.00 L442.31,64.83 L442.58,64.74 L442.86,64.69 L443.16,64.62 L443.50,64.50 L443.88,64.34 L444.29,64.19 L444.72,64.07 L445.16,63.96 L445.60,63.88 L446.03,63.82 L446.43,63.80 L446.80,63.80 L447.13,63.85 L447.43,63.97 L447.71,64.12 L447.98,64.29 L448.24,64.47 L448.49,64.62 L448.74,64.74 L449.00,64.80 L449.25,64.78 L449.50,64.69 L449.73,64.56 L449.96,64.42 L450.20,64.28 L450.45,64.18 L450.71,64.15 L451.00,64.20 L451.29,64.29 L451.58,64.38 L451.86,64.49 L452.17,64.66 L452.50,64.92 L452.88,65.29 L453.31,65.81 L453.80,66.50 L454.37,67.38 L454.99,68.42 L455.67,69.60 L456.39,70.91 L457.15,72.31 L457.92,73.79 L458.71,75.32 L459.50,76.90 L460.31,78.57 L461.14,80.38 L462.00,82.29 L462.87,84.26 L463.76,86.25 L464.65,88.21 L465.53,90.11 L466.40,91.90 L467.26,93.62 L468.12,95.32 L468.98,97.00 L469.84,98.63 L470.71,100.21 L471.57,101.72 L472.43,103.16 L473.30,104.50 L474.17,105.75 L475.03,106.92 L475.89,108.01 L476.75,109.03 L477.62,109.99 L478.50,110.91 L479.39,111.77 L480.30,112.60 L481.20,113.38 L482.07,114.11 L482.95,114.78 L483.84,115.40 L484.77,115.98 L485.76,116.52 L486.83,117.02 L488.00,117.50 L489.24,117.94 L490.51,118.33 L491.83,118.69 L493.23,119.01 L494.73,119.29 L496.34,119.55 L498.09,119.79 L500.00,120.00 L502.12,120.19 L504.45,120.34 L506.94,120.46 L509.53,120.56 L512.19,120.63 L514.85,120.70 L517.47,120.75 L520.00,120.80 L522.59,120.84 L525.37,120.86 L528.21,120.86 L531.00,120.85 L533.64,120.84 L536.01,120.82 L538.00,120.81 L539.50,120.80" fill="none" stroke="#7f9fdc" stroke-width="1.0" stroke-linejoin="round" stroke-linecap="round" />
<path d="M397.50,121.00 L398.77,120.93 L400.51,120.87 L402.59,120.80 L404.88,120.71 L407.23,120.57 L409.52,120.39 L411.62,120.14 L413.40,119.80 L414.89,119.37 L416.25,118.86 L417.49,118.27 L418.63,117.64 L419.69,116.97 L420.70,116.28 L421.66,115.58 L422.60,114.90 L423.48,114.28 L424.26,113.73 L424.98,113.19 L425.64,112.63 L426.29,111.98 L426.95,111.21 L427.65,110.27 L428.40,109.10 L429.22,107.65 L430.07,105.94 L430.96,104.03 L431.85,102.01 L432.74,99.95 L433.63,97.91 L434.48,95.97 L435.30,94.20 L436.09,92.54 L436.87,90.88 L437.64,89.25 L438.39,87.68 L439.11,86.20 L439.81,84.85 L440.47,83.64 L441.10,82.60 L441.68,81.77 L442.23,81.12 L442.74,80.63 L443.23,80.25 L443.69,79.95 L444.13,79.70 L444.57,79.46 L445.00,79.20 L445.42,78.93 L445.81,78.68 L446.19,78.47 L446.56,78.29 L446.91,78.16 L447.27,78.06 L447.63,78.01 L448.00,78.00 L448.37,78.05 L448.73,78.17 L449.09,78.34 L449.44,78.55 L449.81,78.78 L450.19,79.03 L450.58,79.27 L451.00,79.50 L451.42,79.67 L451.84,79.77 L452.26,79.84 L452.71,79.94 L453.18,80.11 L453.69,80.40 L454.26,80.84 L454.90,81.50 L455.62,82.39 L456.41,83.48 L457.27,84.74 L458.16,86.11 L459.08,87.55 L460.00,89.03 L460.92,90.49 L461.80,91.90 L462.65,93.29 L463.47,94.72 L464.29,96.18 L465.11,97.65 L465.94,99.12 L466.81,100.58 L467.73,102.01 L468.70,103.40 L469.74,104.79 L470.84,106.21 L471.98,107.64 L473.15,109.03 L474.34,110.37 L475.54,111.63 L476.73,112.79 L477.90,113.80 L479.07,114.67 L480.25,115.43 L481.45,116.09 L482.64,116.66 L483.82,117.16 L484.98,117.61 L486.11,118.02 L487.20,118.40 L488.20,118.73 L489.09,118.98 L489.92,119.18 L490.74,119.33 L491.61,119.44 L492.58,119.55 L493.69,119.67 L495.00,119.80 L496.43,119.95 L497.90,120.10 L499.46,120.25 L501.14,120.39 L503.00,120.52 L505.06,120.63 L507.38,120.73 L510.00,120.80 L513.20,120.85 L517.05,120.87 L521.30,120.87 L525.69,120.86 L529.96,120.84 L533.86,120.82 L537.12,120.81 L539.50,120.80" fill="none" stroke="#1ebf9a" stroke-width="1.2" stroke-linejoin="round" stroke-linecap="round" />
<path d="M397.50,121.20 L397.84,121.14 L398.30,121.07 L398.84,120.98 L399.44,120.88 L400.08,120.78 L400.72,120.68 L401.33,120.58 L401.90,120.50 L402.42,120.44 L402.92,120.39 L403.42,120.35 L403.91,120.31 L404.40,120.26 L404.91,120.20 L405.44,120.11 L406.00,120.00 L406.58,119.89 L407.19,119.80 L407.81,119.71 L408.44,119.60 L409.09,119.44 L409.75,119.20 L410.42,118.86 L411.10,118.40 L411.79,117.85 L412.50,117.24 L413.23,116.56 L413.96,115.79 L414.70,114.91 L415.44,113.92 L416.18,112.79 L416.90,111.50 L417.62,110.04 L418.36,108.40 L419.09,106.62 L419.82,104.72 L420.54,102.74 L421.25,100.69 L421.94,98.60 L422.60,96.50 L423.24,94.36 L423.87,92.14 L424.48,89.85 L425.07,87.52 L425.65,85.15 L426.21,82.76 L426.76,80.37 L427.30,78.00 L427.83,75.55 L428.37,72.97 L428.89,70.33 L429.40,67.70 L429.88,65.15 L430.33,62.76 L430.74,60.58 L431.10,58.70 L431.38,57.21 L431.59,56.08 L431.73,55.20 L431.86,54.46 L431.98,53.75 L432.12,52.94 L432.32,51.93 L432.60,50.60 L432.96,48.91 L433.39,46.96 L433.86,44.83 L434.36,42.59 L434.87,40.34 L435.37,38.15 L435.86,36.11 L436.30,34.30 L436.71,32.66 L437.12,31.09 L437.51,29.61 L437.89,28.22 L438.26,26.94 L438.62,25.79 L438.97,24.77 L439.30,23.90 L439.62,23.20 L439.91,22.67 L440.20,22.28 L440.47,22.01 L440.73,21.84 L440.99,21.75 L441.24,21.71 L441.50,21.70 L441.75,21.79 L441.98,22.03 L442.21,22.38 L442.43,22.77 L442.66,23.17 L442.89,23.53 L443.14,23.79 L443.40,23.90 L443.68,23.82 L443.95,23.56 L444.24,23.20 L444.54,22.79 L444.85,22.42 L445.18,22.13 L445.53,22.00 L445.90,22.10 L446.31,22.43 L446.77,22.93 L447.26,23.58 L447.76,24.32 L448.26,25.13 L448.75,25.97 L449.20,26.81 L449.60,27.60 L449.96,28.38 L450.29,29.19 L450.60,30.03 L450.89,30.88 L451.16,31.74 L451.42,32.60 L451.67,33.46 L451.90,34.30 L452.11,35.15 L452.29,36.04 L452.45,36.94 L452.60,37.83 L452.75,38.69 L452.91,39.51 L453.09,40.25 L453.30,40.90 L453.53,41.37 L453.78,41.63 L454.04,41.77 L454.31,41.89 L454.60,42.07 L454.91,42.40 L455.24,42.98 L455.60,43.90 L455.99,45.15 L456.40,46.66 L456.84,48.39 L457.29,50.28 L457.77,52.30 L458.26,54.41 L458.78,56.55 L459.30,58.70 L459.83,60.90 L460.37,63.23 L460.93,65.64 L461.50,68.12 L462.10,70.62 L462.73,73.13 L463.39,75.60 L464.10,78.00 L464.85,80.38 L465.65,82.79 L466.48,85.20 L467.34,87.59 L468.23,89.94 L469.14,92.22 L470.07,94.42 L471.00,96.50 L471.94,98.50 L472.89,100.45 L473.85,102.34 L474.83,104.15 L475.84,105.87 L476.89,107.47 L477.97,108.96 L479.10,110.30 L480.29,111.49 L481.54,112.52 L482.83,113.43 L484.15,114.22 L485.49,114.94 L486.84,115.59 L488.18,116.20 L489.50,116.80 L490.78,117.36 L492.01,117.85 L493.23,118.28 L494.46,118.66 L495.73,118.99 L497.06,119.29 L498.47,119.55 L500.00,119.80 L501.59,120.01 L503.21,120.17 L504.88,120.29 L506.62,120.38 L508.48,120.44 L510.48,120.49 L512.64,120.54 L515.00,120.60 L517.78,120.66 L521.03,120.70 L524.57,120.73 L528.19,120.75 L531.69,120.77 L534.88,120.78 L537.54,120.79 L539.50,120.80" fill="none" stroke="#f47c4a" stroke-width="1.0" stroke-linejoin="round" stroke-linecap="round" />
<rect x="390.50" y="9.50" width="149.00" height="119.90" fill="none" stroke="#2e2e2e" stroke-width="1.15"/>
<line x1="390.50" y1="129.40" x2="390.50" y2="131.40" stroke="#2e2e2e" stroke-width="1"/>
<text x="0" y="0" transform="translate(390.50,138.80) scale(1,1.15)" text-anchor="middle" style="font-family:'Liberation Sans',sans-serif;font-weight:bold;font-size:6px" fill="#111" stroke="#111" stroke-width="0.12">400</text>
<line x1="427.75" y1="129.40" x2="427.75" y2="131.40" stroke="#2e2e2e" stroke-width="1"/>
<text x="0" y="0" transform="translate(427.75,138.80) scale(1,1.15)" text-anchor="middle" style="font-family:'Liberation Sans',sans-serif;font-weight:bold;font-size:6px" fill="#111" stroke="#111" stroke-width="0.12">500</text>
<line x1="465.00" y1="129.40" x2="465.00" y2="131.40" stroke="#2e2e2e" stroke-width="1"/>
<text x="0" y="0" transform="translate(465.00,138.80) scale(1,1.15)" text-anchor="middle" style="font-family:'Liberation Sans',sans-serif;font-weight:bold;font-size:6px" fill="#111" stroke="#111" stroke-width="0.12">600</text>
<line x1="502.25" y1="129.40" x2="502.25" y2="131.40" stroke="#2e2e2e" stroke-width="1"/>
<text x="0" y="0" transform="translate(502.25,138.80) scale(1,1.15)" text-anchor="middle" style="font-family:'Liberation Sans',sans-serif;font-weight:bold;font-size:6px" fill="#111" stroke="#111" stroke-width="0.12">700</text>
<line x1="539.50" y1="129.40" x2="539.50" y2="131.40" stroke="#2e2e2e" stroke-width="1"/>
<text x="0" y="0" transform="translate(539.50,138.80) scale(1,1.15)" text-anchor="middle" style="font-family:'Liberation Sans',sans-serif;font-weight:bold;font-size:6px" fill="#111" stroke="#111" stroke-width="0.12">800</text>
<line x1="409.12" y1="129.40" x2="409.12" y2="130.60" stroke="#2e2e2e" stroke-width="0.9"/>
<line x1="446.38" y1="129.40" x2="446.38" y2="130.60" stroke="#2e2e2e" stroke-width="0.9"/>
<line x1="483.62" y1="129.40" x2="483.62" y2="130.60" stroke="#2e2e2e" stroke-width="0.9"/>
<line x1="520.88" y1="129.40" x2="520.88" y2="130.60" stroke="#2e2e2e" stroke-width="0.9"/>
<text x="0" y="0" transform="translate(464.75,147.50) scale(1,1.08)" text-anchor="middle" style="font-family:'Liberation Sans',sans-serif;font-weight:bold;font-size:6.8px" fill="#111" stroke="#111" stroke-width="0.1" >Wavelength (nm)</text>
<text x="0" y="0" text-anchor="middle" transform="translate(385.30,66.30) rotate(-90) scale(1,1.15)" style="font-family:'Liberation Sans',sans-serif;font-weight:bold;font-size:6.2px" fill="#111" stroke="#111" stroke-width="0.12">PL Intensity (a.u.)</text>
<line x1="468" y1="18.0" x2="483" y2="18.0" stroke="#7f9fdc" stroke-width="1.55"/>
<text x="0" y="0" transform="translate(484.50,20.40) scale(1,1.03)" text-anchor="start" style="font-family:'Liberation Serif',serif;font-weight:bold;font-size:6.8px" fill="#111" stroke="#111" stroke-width="0.16" >0.3 wt% Cu-ZnS</text>
<line x1="468" y1="26.0" x2="483" y2="26.0" stroke="#1ebf9a" stroke-width="1.55"/>
<text x="0" y="0" transform="translate(484.50,28.40) scale(1,1.03)" text-anchor="start" style="font-family:'Liberation Serif',serif;font-weight:bold;font-size:6.8px" fill="#111" stroke="#111" stroke-width="0.16" >0.6 wt% Cu-ZnS</text>
<line x1="468" y1="35.0" x2="483" y2="35.0" stroke="#f47c4a" stroke-width="1.55"/>
<text x="0" y="0" transform="translate(484.50,37.40) scale(1,1.03)" text-anchor="start" style="font-family:'Liberation Serif',serif;font-weight:bold;font-size:6.8px" fill="#111" stroke="#111" stroke-width="0.16" >10 wt% Cu-ZnS</text>
<text x="0" y="0" transform="translate(8.70,163.80) scale(1,0.95)" text-anchor="start" style="font-family:'Liberation Serif',serif;font-weight:bold;font-size:8.8px" fill="#111" stroke="#111" stroke-width="0.2" >d)</text>
<line x1="25.5" y1="273.2" x2="59" y2="273.2" stroke="#1ebf9a" stroke-width="1.6"/>
<line x1="25.5" y1="272.1" x2="59" y2="272.1" stroke="#f47c4a" stroke-width="2.2"/>
<path d="M65.37,232.84 L65.55,235.07 L65.74,236.98 L65.93,238.61 L66.11,240.01 L66.30,241.22 L66.49,242.27 L66.67,243.18 L66.86,243.98 L67.05,244.69 L67.23,245.32 L67.42,245.89 L67.61,246.40 L67.79,246.86 L67.98,247.29 L68.17,247.68 L68.36,248.05 L68.54,248.39 L68.73,248.71 L68.92,249.01 L69.10,249.30 L69.29,249.58 L69.48,249.85 L69.66,250.11 L69.85,250.36 L70.04,250.60 L70.22,250.83 L70.41,251.06 L70.60,251.29 L70.78,251.51 L70.97,251.73 L71.16,251.94 L71.35,252.15 L71.53,252.35 L71.72,252.56 L71.91,252.76 L72.09,252.95 L72.28,253.15 L72.47,253.34 L72.65,253.53 L72.84,253.72 L73.03,253.90 L73.21,254.08 L73.40,254.26 L73.59,254.44 L73.77,254.62 L73.96,254.79 L74.15,254.97 L74.34,255.14 L74.52,255.31 L74.71,255.47 L75.64,256.28 L76.58,257.05 L77.51,257.77 L78.45,258.46 L79.38,259.11 L80.32,259.73 L81.25,260.31 L82.18,260.87 L83.12,261.39 L84.05,261.89 L84.99,262.36 L85.92,262.81 L86.86,263.23 L87.79,263.63 L88.72,264.01 L89.66,264.37 L90.59,264.72 L91.53,265.04 L92.46,265.35 L93.40,265.64 L94.33,265.91 L95.27,266.17 L96.20,266.42 L97.13,266.66 L98.07,266.88 L99.00,267.09 L99.94,267.29 L100.87,267.48 L101.81,267.66 L102.74,267.83 L103.67,267.99 L104.61,268.14 L105.54,268.28 L106.48,268.42 L107.41,268.55 L108.35,268.67 L109.28,268.79 L110.22,268.90 L111.15,269.00 L112.08,269.10 L113.02,269.20 L113.95,269.29 L114.89,269.37 L115.82,269.45 L116.76,269.53 L117.69,269.60 L118.62,269.67 L119.56,269.73 L120.49,269.79 L121.43,269.85 L122.36,269.91 L123.30,269.96 L124.23,270.01 L125.17,270.05 L126.10,270.10 L127.03,270.14 L127.97,270.18 L128.90,270.22 L129.84,270.25 L130.77,270.29 L131.71,270.32 L132.64,270.35 L133.57,270.38 L134.51,270.41 L135.44,270.43 L136.38,270.46 L137.31,270.48 L138.25,270.50 L139.18,270.52 L140.12,270.54 L141.05,270.56 L141.98,270.58 L142.92,270.60 L143.85,270.61 L144.79,270.63 L145.72,270.64 L146.66,270.65 L147.59,270.67 L148.52,270.68 L149.46,270.69 L150.39,270.70 L151.33,270.71 L152.26,270.72 L153.20,270.73 L154.13,270.74 L155.07,270.75 L156.00,270.76 L156.93,270.76 L157.87,270.77 L158.80,270.78 L159.74,270.78 L160.67,270.79 L161.61,270.80 L162.54,270.80 L163.47,270.81 L164.41,270.81 L165.34,270.82 L166.28,270.82 L167.21,270.82 L168.15,270.83 L169.08,270.83 L170.02,270.84 L170.95,270.84 L171.88,270.84 L172.82,270.85 L173.75,270.85" fill="none" stroke="#1ebf9a" stroke-width="2.4" stroke-linejoin="round"/>
<path d="M65.37,238.17 L65.55,240.43 L65.74,242.36 L65.93,244.01 L66.11,245.43 L66.30,246.66 L66.49,247.72 L66.67,248.66 L66.86,249.48 L67.05,250.20 L67.23,250.85 L67.42,251.43 L67.61,251.95 L67.79,252.43 L67.98,252.86 L68.17,253.27 L68.36,253.64 L68.54,253.99 L68.73,254.32 L68.92,254.63 L69.10,254.93 L69.29,255.21 L69.48,255.49 L69.66,255.75 L69.85,256.00 L70.04,256.25 L70.22,256.49 L70.41,256.72 L70.60,256.95 L70.78,257.17 L70.97,257.39 L71.16,257.60 L71.35,257.81 L71.53,258.01 L71.72,258.21 L71.91,258.41 L72.09,258.61 L72.28,258.80 L72.47,258.99 L72.65,259.17 L72.84,259.36 L73.03,259.54 L73.21,259.72 L73.40,259.89 L73.59,260.06 L73.77,260.23 L73.96,260.40 L74.15,260.57 L74.34,260.73 L74.52,260.89 L74.71,261.05 L75.64,261.82 L76.58,262.53 L77.51,263.20 L78.45,263.83 L79.38,264.41 L80.32,264.96 L81.25,265.47 L82.18,265.95 L83.12,266.40 L84.05,266.82 L84.99,267.21 L85.92,267.58 L86.86,267.92 L87.79,268.24 L88.72,268.54 L89.66,268.82 L90.59,269.09 L91.53,269.33 L92.46,269.56 L93.40,269.78 L94.33,269.98 L95.27,270.17 L96.20,270.34 L97.13,270.51 L98.07,270.66 L99.00,270.81 L99.94,270.94 L100.87,271.07 L101.81,271.19 L102.74,271.30 L103.67,271.40 L104.61,271.50 L105.54,271.59 L106.48,271.67 L107.41,271.75 L108.35,271.83 L109.28,271.89 L110.22,271.96 L111.15,272.02 L112.08,272.08 L113.02,272.13 L113.95,272.18 L114.89,272.23 L115.82,272.27 L116.76,272.31 L117.69,272.35 L118.62,272.38 L119.56,272.42 L120.49,272.45 L121.43,272.48 L122.36,272.50 L123.30,272.53 L124.23,272.55 L125.17,272.58 L126.10,272.60 L127.03,272.62 L127.97,272.63 L128.90,272.65 L129.84,272.67 L130.77,272.68 L131.71,272.70 L132.64,272.71 L133.57,272.72 L134.51,272.73 L135.44,272.74 L136.38,272.75 L137.31,272.76 L138.25,272.77 L139.18,272.78 L140.12,272.79 L141.05,272.80 L141.98,272.80 L142.92,272.81 L143.85,272.81 L144.79,272.82 L145.72,272.83 L146.66,272.83 L147.59,272.83 L148.52,272.84 L149.46,272.84 L150.39,272.85 L151.33,272.85 L152.26,272.85 L153.20,272.86 L154.13,272.86 L155.07,272.86 L156.00,272.86 L156.93,272.87 L157.87,272.87 L158.80,272.87 L159.74,272.87 L160.67,272.87 L161.61,272.88 L162.54,272.88 L163.47,272.88 L164.41,272.88 L165.34,272.88 L166.28,272.88 L167.21,272.88 L168.15,272.88 L169.08,272.89 L170.02,272.89 L170.95,272.89 L171.88,272.89 L172.82,272.89 L173.75,272.89" fill="none" stroke="#7f9fdc" stroke-width="2.0" stroke-linejoin="round"/>
<path d="M65.37,236.81 L65.55,239.04 L65.74,240.95 L65.93,242.58 L66.11,243.99 L66.30,245.19 L66.49,246.24 L66.67,247.16 L66.86,247.96 L67.05,248.67 L67.23,249.30 L67.42,249.87 L67.61,250.38 L67.79,250.84 L67.98,251.26 L68.17,251.65 L68.36,252.02 L68.54,252.36 L68.73,252.68 L68.92,252.98 L69.10,253.27 L69.29,253.54 L69.48,253.81 L69.66,254.06 L69.85,254.31 L70.04,254.54 L70.22,254.78 L70.41,255.00 L70.60,255.22 L70.78,255.44 L70.97,255.65 L71.16,255.86 L71.35,256.06 L71.53,256.26 L71.72,256.46 L71.91,256.66 L72.09,256.85 L72.28,257.04 L72.47,257.22 L72.65,257.41 L72.84,257.59 L73.03,257.77 L73.21,257.95 L73.40,258.12 L73.59,258.29 L73.77,258.46 L73.96,258.63 L74.15,258.80 L74.34,258.96 L74.52,259.12 L74.71,259.28 L75.64,260.06 L76.58,260.78 L77.51,261.47 L78.45,262.12 L79.38,262.73 L80.32,263.30 L81.25,263.85 L82.18,264.36 L83.12,264.84 L84.05,265.29 L84.99,265.72 L85.92,266.13 L86.86,266.51 L87.79,266.87 L88.72,267.21 L89.66,267.53 L90.59,267.83 L91.53,268.11 L92.46,268.38 L93.40,268.63 L94.33,268.87 L95.27,269.09 L96.20,269.31 L97.13,269.51 L98.07,269.69 L99.00,269.87 L99.94,270.04 L100.87,270.20 L101.81,270.35 L102.74,270.49 L103.67,270.62 L104.61,270.74 L105.54,270.86 L106.48,270.97 L107.41,271.08 L108.35,271.17 L109.28,271.27 L110.22,271.35 L111.15,271.44 L112.08,271.51 L113.02,271.59 L113.95,271.66 L114.89,271.72 L115.82,271.78 L116.76,271.84 L117.69,271.90 L118.62,271.95 L119.56,272.00 L120.49,272.04 L121.43,272.09 L122.36,272.13 L123.30,272.17 L124.23,272.20 L125.17,272.24 L126.10,272.27 L127.03,272.30 L127.97,272.33 L128.90,272.35 L129.84,272.38 L130.77,272.40 L131.71,272.43 L132.64,272.45 L133.57,272.47 L134.51,272.49 L135.44,272.50 L136.38,272.52 L137.31,272.54 L138.25,272.55 L139.18,272.57 L140.12,272.58 L141.05,272.59 L141.98,272.60 L142.92,272.62 L143.85,272.63 L144.79,272.64 L145.72,272.65 L146.66,272.65 L147.59,272.66 L148.52,272.67 L149.46,272.68 L150.39,272.68 L151.33,272.69 L152.26,272.70 L153.20,272.70 L154.13,272.71 L155.07,272.71 L156.00,272.72 L156.93,272.72 L157.87,272.73 L158.80,272.73 L159.74,272.74 L160.67,272.74 L161.61,272.74 L162.54,272.75 L163.47,272.75 L164.41,272.75 L165.34,272.76 L166.28,272.76 L167.21,272.76 L168.15,272.76 L169.08,272.76 L170.02,272.77 L170.95,272.77 L171.88,272.77 L172.82,272.77 L173.75,272.77" fill="none" stroke="#f47c4a" stroke-width="3.6" stroke-linejoin="round"/>
<circle cx="63.57" cy="178.43" r="0.95" fill="#7f9fdc"/>
<circle cx="63.68" cy="185.72" r="0.95" fill="#7f9fdc"/>
<circle cx="63.80" cy="192.26" r="0.95" fill="#7f9fdc"/>
<circle cx="63.91" cy="198.14" r="0.95" fill="#7f9fdc"/>
<circle cx="64.02" cy="203.43" r="0.95" fill="#7f9fdc"/>
<circle cx="64.13" cy="208.18" r="0.95" fill="#7f9fdc"/>
<circle cx="64.24" cy="212.46" r="0.95" fill="#7f9fdc"/>
<circle cx="64.36" cy="216.31" r="0.95" fill="#7f9fdc"/>
<circle cx="64.47" cy="219.78" r="0.95" fill="#7f9fdc"/>
<circle cx="64.58" cy="222.91" r="0.95" fill="#7f9fdc"/>
<circle cx="64.69" cy="225.73" r="0.95" fill="#7f9fdc"/>
<circle cx="64.80" cy="228.28" r="0.95" fill="#7f9fdc"/>
<circle cx="64.92" cy="230.57" r="0.95" fill="#7f9fdc"/>
<circle cx="65.03" cy="232.65" r="0.95" fill="#7f9fdc"/>
<circle cx="65.14" cy="234.53" r="0.95" fill="#7f9fdc"/>
<circle cx="65.25" cy="236.23" r="0.95" fill="#7f9fdc"/>
<circle cx="65.36" cy="237.77" r="0.95" fill="#7f9fdc"/>
<circle cx="65.48" cy="239.17" r="0.95" fill="#7f9fdc"/>
<circle cx="65.76" cy="242.14" r="0.95" fill="#7f9fdc"/>
<circle cx="66.04" cy="244.49" r="0.95" fill="#7f9fdc"/>
<circle cx="66.32" cy="246.37" r="0.95" fill="#7f9fdc"/>
<circle cx="66.60" cy="247.90" r="0.95" fill="#7f9fdc"/>
<circle cx="66.88" cy="249.15" r="0.95" fill="#7f9fdc"/>
<circle cx="67.16" cy="250.20" r="0.95" fill="#7f9fdc"/>
<circle cx="67.44" cy="251.08" r="0.95" fill="#7f9fdc"/>
<circle cx="67.72" cy="251.84" r="0.95" fill="#7f9fdc"/>
<circle cx="68.00" cy="252.50" r="0.95" fill="#7f9fdc"/>
<circle cx="68.28" cy="253.09" r="0.95" fill="#7f9fdc"/>
<circle cx="68.56" cy="253.63" r="0.95" fill="#7f9fdc"/>
<circle cx="68.84" cy="254.11" r="0.95" fill="#7f9fdc"/>
<circle cx="69.12" cy="254.56" r="0.95" fill="#7f9fdc"/>
<circle cx="70.06" cy="255.87" r="0.95" fill="#7f9fdc"/>
<circle cx="70.99" cy="257.01" r="0.95" fill="#7f9fdc"/>
<circle cx="71.92" cy="258.03" r="0.95" fill="#7f9fdc"/>
<circle cx="72.86" cy="258.97" r="0.95" fill="#7f9fdc"/>
<circle cx="73.79" cy="259.85" r="0.95" fill="#7f9fdc"/>
<circle cx="74.73" cy="260.67" r="0.95" fill="#7f9fdc"/>
<circle cx="75.66" cy="261.43" r="0.95" fill="#7f9fdc"/>
<circle cx="76.60" cy="262.15" r="0.95" fill="#7f9fdc"/>
<circle cx="77.53" cy="262.81" r="0.95" fill="#7f9fdc"/>
<circle cx="78.46" cy="263.44" r="0.95" fill="#7f9fdc"/>
<circle cx="79.40" cy="264.02" r="0.95" fill="#7f9fdc"/>
<circle cx="80.33" cy="264.57" r="0.95" fill="#7f9fdc"/>
<circle cx="81.27" cy="265.08" r="0.95" fill="#7f9fdc"/>
<circle cx="82.20" cy="265.56" r="0.95" fill="#7f9fdc"/>
<circle cx="83.14" cy="266.01" r="0.95" fill="#7f9fdc"/>
<circle cx="84.07" cy="266.43" r="0.95" fill="#7f9fdc"/>
<circle cx="85.01" cy="266.82" r="0.95" fill="#7f9fdc"/>
<circle cx="85.94" cy="267.18" r="0.95" fill="#7f9fdc"/>
<circle cx="86.87" cy="267.53" r="0.95" fill="#7f9fdc"/>
<circle cx="87.81" cy="267.85" r="0.95" fill="#7f9fdc"/>
<circle cx="63.50" cy="167.97" r="0.95" fill="#1ebf9a"/>
<circle cx="63.61" cy="175.78" r="0.95" fill="#1ebf9a"/>
<circle cx="63.72" cy="182.79" r="0.95" fill="#1ebf9a"/>
<circle cx="63.83" cy="189.09" r="0.95" fill="#1ebf9a"/>
<circle cx="63.94" cy="194.75" r="0.95" fill="#1ebf9a"/>
<circle cx="64.06" cy="199.84" r="0.95" fill="#1ebf9a"/>
<circle cx="64.17" cy="204.42" r="0.95" fill="#1ebf9a"/>
<circle cx="64.28" cy="208.54" r="0.95" fill="#1ebf9a"/>
<circle cx="64.39" cy="212.25" r="0.95" fill="#1ebf9a"/>
<circle cx="64.51" cy="215.59" r="0.95" fill="#1ebf9a"/>
<circle cx="64.62" cy="218.60" r="0.95" fill="#1ebf9a"/>
<circle cx="64.73" cy="221.32" r="0.95" fill="#1ebf9a"/>
<circle cx="64.84" cy="223.76" r="0.95" fill="#1ebf9a"/>
<circle cx="64.95" cy="225.98" r="0.95" fill="#1ebf9a"/>
<circle cx="65.07" cy="227.98" r="0.95" fill="#1ebf9a"/>
<circle cx="65.18" cy="229.78" r="0.95" fill="#1ebf9a"/>
<circle cx="65.29" cy="231.42" r="0.95" fill="#1ebf9a"/>
<circle cx="65.40" cy="232.91" r="0.95" fill="#1ebf9a"/>
<circle cx="65.68" cy="236.04" r="0.95" fill="#1ebf9a"/>
<circle cx="65.96" cy="238.53" r="0.95" fill="#1ebf9a"/>
<circle cx="66.24" cy="240.51" r="0.95" fill="#1ebf9a"/>
<circle cx="66.52" cy="242.11" r="0.95" fill="#1ebf9a"/>
<circle cx="66.80" cy="243.41" r="0.95" fill="#1ebf9a"/>
<circle cx="67.08" cy="244.50" r="0.95" fill="#1ebf9a"/>
<circle cx="67.36" cy="245.41" r="0.95" fill="#1ebf9a"/>
<circle cx="67.64" cy="246.20" r="0.95" fill="#1ebf9a"/>
<circle cx="67.93" cy="246.88" r="0.95" fill="#1ebf9a"/>
<circle cx="68.21" cy="247.48" r="0.95" fill="#1ebf9a"/>
<circle cx="68.49" cy="248.03" r="0.95" fill="#1ebf9a"/>
<circle cx="68.77" cy="248.52" r="0.95" fill="#1ebf9a"/>
<circle cx="69.05" cy="248.98" r="0.95" fill="#1ebf9a"/>
<circle cx="69.33" cy="249.41" r="0.95" fill="#1ebf9a"/>
<circle cx="70.26" cy="250.69" r="0.95" fill="#1ebf9a"/>
<circle cx="71.20" cy="251.83" r="0.95" fill="#1ebf9a"/>
<circle cx="72.13" cy="252.87" r="0.95" fill="#1ebf9a"/>
<circle cx="73.06" cy="253.85" r="0.95" fill="#1ebf9a"/>
<circle cx="74.00" cy="254.77" r="0.95" fill="#1ebf9a"/>
<circle cx="74.93" cy="255.65" r="0.95" fill="#1ebf9a"/>
<circle cx="75.87" cy="256.47" r="0.95" fill="#1ebf9a"/>
<circle cx="76.80" cy="257.25" r="0.95" fill="#1ebf9a"/>
<circle cx="77.74" cy="257.99" r="0.95" fill="#1ebf9a"/>
<circle cx="78.67" cy="258.70" r="0.95" fill="#1ebf9a"/>
<circle cx="79.60" cy="259.36" r="0.95" fill="#1ebf9a"/>
<circle cx="80.54" cy="259.99" r="0.95" fill="#1ebf9a"/>
<circle cx="81.47" cy="260.59" r="0.95" fill="#1ebf9a"/>
<circle cx="82.41" cy="261.15" r="0.95" fill="#1ebf9a"/>
<circle cx="83.34" cy="261.69" r="0.95" fill="#1ebf9a"/>
<circle cx="84.28" cy="262.20" r="0.95" fill="#1ebf9a"/>
<circle cx="85.21" cy="262.68" r="0.95" fill="#1ebf9a"/>
<circle cx="86.15" cy="263.14" r="0.95" fill="#1ebf9a"/>
<circle cx="87.08" cy="263.57" r="0.95" fill="#1ebf9a"/>
<circle cx="88.01" cy="263.98" r="0.95" fill="#1ebf9a"/>
<polygon points="63.65,180.43 62.45,182.59 64.85,182.59" fill="#f47c4a"/>
<polygon points="63.76,187.20 62.56,189.36 64.96,189.36" fill="#f47c4a"/>
<polygon points="63.87,193.29 62.67,195.45 65.07,195.45" fill="#f47c4a"/>
<polygon points="63.98,198.75 62.78,200.91 65.18,200.91" fill="#f47c4a"/>
<polygon points="64.09,203.67 62.89,205.83 65.29,205.83" fill="#f47c4a"/>
<polygon points="64.21,208.09 63.01,210.25 65.41,210.25" fill="#f47c4a"/>
<polygon points="64.32,212.08 63.12,214.24 65.52,214.24" fill="#f47c4a"/>
<polygon points="64.43,215.66 63.23,217.82 65.63,217.82" fill="#f47c4a"/>
<polygon points="64.54,218.89 63.34,221.05 65.74,221.05" fill="#f47c4a"/>
<polygon points="64.65,221.80 63.45,223.96 65.85,223.96" fill="#f47c4a"/>
<polygon points="64.77,224.43 63.57,226.59 65.97,226.59" fill="#f47c4a"/>
<polygon points="64.88,226.80 63.68,228.96 66.08,228.96" fill="#f47c4a"/>
<polygon points="64.99,228.94 63.79,231.10 66.19,231.10" fill="#f47c4a"/>
<polygon points="65.10,230.87 63.90,233.03 66.30,233.03" fill="#f47c4a"/>
<polygon points="65.22,232.62 64.02,234.78 66.42,234.78" fill="#f47c4a"/>
<polygon points="65.33,234.21 64.13,236.37 66.53,236.37" fill="#f47c4a"/>
<polygon points="65.44,235.65 64.24,237.81 66.64,237.81" fill="#f47c4a"/>
<polygon points="65.72,238.69 64.52,240.85 66.92,240.85" fill="#f47c4a"/>
<polygon points="66.00,241.10 64.80,243.26 67.20,243.26" fill="#f47c4a"/>
<polygon points="66.28,243.03 65.08,245.19 67.48,245.19" fill="#f47c4a"/>
<polygon points="66.56,244.59 65.36,246.75 67.76,246.75" fill="#f47c4a"/>
<polygon points="66.84,245.86 65.64,248.02 68.04,248.02" fill="#f47c4a"/>
<polygon points="67.12,246.92 65.92,249.08 68.32,249.08" fill="#f47c4a"/>
<polygon points="67.40,247.82 66.20,249.98 68.60,249.98" fill="#f47c4a"/>
<polygon points="67.68,248.59 66.48,250.75 68.88,250.75" fill="#f47c4a"/>
<polygon points="67.96,249.26 66.76,251.42 69.16,251.42" fill="#f47c4a"/>
<polygon points="68.24,249.85 67.04,252.01 69.44,252.01" fill="#f47c4a"/>
<polygon points="68.52,250.39 67.32,252.55 69.72,252.55" fill="#f47c4a"/>
<polygon points="68.80,250.87 67.60,253.03 70.00,253.03" fill="#f47c4a"/>
<polygon points="69.08,251.33 67.88,253.49 70.28,253.49" fill="#f47c4a"/>
<polygon points="69.36,251.75 68.16,253.91 70.56,253.91" fill="#f47c4a"/>
<polygon points="70.30,253.01 69.10,255.17 71.50,255.17" fill="#f47c4a"/>
<polygon points="71.23,254.12 70.03,256.28 72.43,256.28" fill="#f47c4a"/>
<polygon points="72.17,255.14 70.97,257.30 73.37,257.30" fill="#f47c4a"/>
<polygon points="73.10,256.09 71.90,258.25 74.30,258.25" fill="#f47c4a"/>
<polygon points="74.04,256.97 72.84,259.13 75.24,259.13" fill="#f47c4a"/>
<polygon points="74.97,257.81 73.77,259.97 76.17,259.97" fill="#f47c4a"/>
<polygon points="75.90,258.60 74.70,260.76 77.10,260.76" fill="#f47c4a"/>
<polygon points="76.84,259.34 75.64,261.50 78.04,261.50" fill="#f47c4a"/>
<polygon points="77.77,260.04 76.57,262.20 78.97,262.20" fill="#f47c4a"/>
<polygon points="78.71,260.70 77.51,262.86 79.91,262.86" fill="#f47c4a"/>
<polygon points="79.64,261.33 78.44,263.49 80.84,263.49" fill="#f47c4a"/>
<polygon points="80.58,261.91 79.38,264.07 81.78,264.07" fill="#f47c4a"/>
<polygon points="81.51,262.47 80.31,264.63 82.71,264.63" fill="#f47c4a"/>
<polygon points="82.45,262.99 81.25,265.15 83.65,265.15" fill="#f47c4a"/>
<polygon points="83.38,263.48 82.18,265.64 84.58,265.64" fill="#f47c4a"/>
<polygon points="84.31,263.94 83.11,266.10 85.51,266.10" fill="#f47c4a"/>
<polygon points="85.25,264.38 84.05,266.54 86.45,266.54" fill="#f47c4a"/>
<polygon points="86.18,264.79 84.98,266.95 87.38,266.95" fill="#f47c4a"/>
<polygon points="87.12,265.18 85.92,267.34 88.32,267.34" fill="#f47c4a"/>
<polygon points="88.05,265.55 86.85,267.71 89.25,267.71" fill="#f47c4a"/>
<polygon points="61.00,173.75 59.75,176.00 62.25,176.00" fill="#f47c4a"/>
<circle cx="61.00" cy="179.30" r="1.0" fill="#1ebf9a"/>
<circle cx="61.00" cy="183.60" r="1.0" fill="#7f9fdc"/>
<polygon points="61.00,186.65 59.75,188.90 62.25,188.90" fill="#f47c4a"/>
<circle cx="60.20" cy="192.20" r="1.0" fill="#1ebf9a"/>
<circle cx="60.20" cy="196.50" r="1.0" fill="#7f9fdc"/>
<polygon points="60.20,199.55 58.95,201.80 61.45,201.80" fill="#f47c4a"/>
<circle cx="60.20" cy="205.10" r="1.0" fill="#1ebf9a"/>
<circle cx="60.20" cy="209.40" r="1.0" fill="#7f9fdc"/>
<polygon points="60.20,212.45 58.95,214.70 61.45,214.70" fill="#f47c4a"/>
<circle cx="60.20" cy="218.00" r="1.0" fill="#1ebf9a"/>
<circle cx="60.20" cy="222.30" r="1.0" fill="#7f9fdc"/>
<polygon points="60.20,225.35 58.95,227.60 61.45,227.60" fill="#f47c4a"/>
<circle cx="59.00" cy="230.90" r="1.0" fill="#1ebf9a"/>
<circle cx="59.00" cy="235.20" r="1.0" fill="#7f9fdc"/>
<polygon points="59.00,238.25 57.75,240.50 60.25,240.50" fill="#f47c4a"/>
<circle cx="59.00" cy="243.80" r="1.0" fill="#1ebf9a"/>
<circle cx="59.00" cy="248.10" r="1.0" fill="#7f9fdc"/>
<polygon points="59.00,251.15 57.75,253.40 60.25,253.40" fill="#f47c4a"/>
<circle cx="59.00" cy="256.70" r="1.0" fill="#1ebf9a"/>
<circle cx="59.00" cy="261.00" r="1.0" fill="#7f9fdc"/>
<polygon points="59.00,264.05 57.75,266.30 60.25,266.30" fill="#f47c4a"/>
<polygon points="63.00,169.75 61.75,172.00 64.25,172.00" fill="#f47c4a"/>
<circle cx="63.75" cy="173.30" r="1.05" fill="#7f9fdc"/>
<circle cx="63.09" cy="175.60" r="1.05" fill="#1ebf9a"/>
<polygon points="63.84,176.65 62.59,178.90 65.09,178.90" fill="#f47c4a"/>
<circle cx="63.18" cy="180.20" r="1.05" fill="#7f9fdc"/>
<circle cx="63.93" cy="182.50" r="1.05" fill="#1ebf9a"/>
<polygon points="63.27,183.55 62.02,185.80 64.52,185.80" fill="#f47c4a"/>
<circle cx="64.02" cy="187.10" r="1.05" fill="#7f9fdc"/>
<circle cx="63.36" cy="189.40" r="1.05" fill="#1ebf9a"/>
<polygon points="64.11,190.45 62.86,192.70 65.36,192.70" fill="#f47c4a"/>
<circle cx="63.45" cy="194.00" r="1.05" fill="#7f9fdc"/>
<circle cx="64.20" cy="196.30" r="1.05" fill="#1ebf9a"/>
<polygon points="63.55,197.35 62.30,199.60 64.80,199.60" fill="#f47c4a"/>
<circle cx="64.29" cy="200.90" r="1.05" fill="#7f9fdc"/>
<circle cx="63.64" cy="203.20" r="1.05" fill="#1ebf9a"/>
<polygon points="64.38,204.25 63.13,206.50 65.63,206.50" fill="#f47c4a"/>
<circle cx="63.73" cy="207.80" r="1.05" fill="#7f9fdc"/>
<circle cx="64.47" cy="210.10" r="1.05" fill="#1ebf9a"/>
<polygon points="63.82,211.15 62.57,213.40 65.07,213.40" fill="#f47c4a"/>
<circle cx="64.56" cy="214.70" r="1.05" fill="#7f9fdc"/>
<circle cx="63.91" cy="217.00" r="1.05" fill="#1ebf9a"/>
<polygon points="64.65,218.05 63.40,220.30 65.90,220.30" fill="#f47c4a"/>
<circle cx="64.00" cy="221.60" r="1.05" fill="#7f9fdc"/>
<circle cx="64.74" cy="223.90" r="1.05" fill="#1ebf9a"/>
<polygon points="64.09,224.95 62.84,227.20 65.34,227.20" fill="#f47c4a"/>
<circle cx="64.84" cy="228.50" r="1.05" fill="#7f9fdc"/>
<circle cx="64.18" cy="230.80" r="1.05" fill="#1ebf9a"/>
<polygon points="64.93,231.85 63.68,234.10 66.18,234.10" fill="#f47c4a"/>
<circle cx="64.27" cy="235.40" r="1.05" fill="#7f9fdc"/>
<circle cx="65.02" cy="237.70" r="1.05" fill="#1ebf9a"/>
<polygon points="64.36,238.75 63.11,241.00 65.61,241.00" fill="#f47c4a"/>
<circle cx="65.11" cy="242.30" r="1.05" fill="#7f9fdc"/>
<circle cx="64.45" cy="244.60" r="1.05" fill="#1ebf9a"/>
<polygon points="65.20,245.65 63.95,247.90 66.45,247.90" fill="#f47c4a"/>
<circle cx="64.54" cy="249.20" r="1.05" fill="#7f9fdc"/>
<circle cx="65.29" cy="251.50" r="1.05" fill="#1ebf9a"/>
<polygon points="61.80,169.50 60.30,172.20 63.30,172.20" fill="#f47c4a"/>
<circle cx="62.60" cy="172.80" r="1.2" fill="#1ebf9a"/>
<polygon points="62.20,173.50 60.90,175.84 63.50,175.84" fill="#f47c4a"/>
<circle cx="61.40" cy="176.50" r="1.0" fill="#7f9fdc"/>
<circle cx="112.50" cy="166.50" r="1.25" fill="#7f9fdc"/>
<circle cx="112.50" cy="203.80" r="1.35" fill="#1ebf9a"/>
<polygon points="112.50,238.20 110.90,241.08 114.10,241.08" fill="#f47c4a"/>
<text x="0" y="0" transform="translate(121.80,169.00) scale(1,1.1)" text-anchor="start" style="font-family:'Liberation Serif',serif;font-weight:bold;font-size:6.7px" fill="#111" stroke="#111" stroke-width="0.2" >10 wt% Cu-ZnS</text>
<text x="0" y="0" transform="translate(121.20,206.20) scale(1,1.1)" text-anchor="start" style="font-family:'Liberation Serif',serif;font-weight:bold;font-size:6.7px" fill="#111" stroke="#111" stroke-width="0.2" >0.6 wt% Cu-ZnS</text>
<text x="0" y="0" transform="translate(121.60,242.20) scale(1,1.1)" text-anchor="start" style="font-family:'Liberation Serif',serif;font-weight:bold;font-size:6.7px" fill="#111" stroke="#111" stroke-width="0.2" >0.3 wt% Cu-ZnS</text>
<text x="0" y="0" transform="translate(166.8,176.9)" text-anchor="end" style="font-family:'Liberation Serif',serif;font-weight:bold;font-size:7.0px" fill="#111" stroke="#111" stroke-width="0.2">&#964;<tspan dy="1.3" style="font-size:4.8px">1</tspan><tspan dy="-1.3"> = 1.32 &#956;s</tspan></text>
<text x="0" y="0" transform="translate(166.8,187.3)" text-anchor="end" style="font-family:'Liberation Serif',serif;font-weight:bold;font-size:7.0px" fill="#111" stroke="#111" stroke-width="0.2">&#964;<tspan dy="1.3" style="font-size:4.8px">2</tspan><tspan dy="-1.3"> = 7.70 &#956;s</tspan></text>
<text x="0" y="0" transform="translate(166.8,196.6)" text-anchor="end" style="font-family:'Liberation Serif',serif;font-weight:bold;font-size:7.0px" fill="#111" stroke="#111" stroke-width="0.2">&#964; = 4.66 &#956;s</text>
<text x="0" y="0" transform="translate(166.8,213.9)" text-anchor="end" style="font-family:'Liberation Serif',serif;font-weight:bold;font-size:7.0px" fill="#111" stroke="#111" stroke-width="0.2">&#964;<tspan dy="1.3" style="font-size:4.8px">1</tspan><tspan dy="-1.3"> = 1.37 &#956;s</tspan></text>
<text x="0" y="0" transform="translate(166.8,224.3)" text-anchor="end" style="font-family:'Liberation Serif',serif;font-weight:bold;font-size:7.0px" fill="#111" stroke="#111" stroke-width="0.2">&#964;<tspan dy="1.3" style="font-size:4.8px">2</tspan><tspan dy="-1.3"> = 9.24 &#956;s</tspan></text>
<text x="0" y="0" transform="translate(166.8,233.6)" text-anchor="end" style="font-family:'Liberation Serif',serif;font-weight:bold;font-size:7.0px" fill="#111" stroke="#111" stroke-width="0.2">&#964; = 5.62 &#956;s</text>
<text x="0" y="0" transform="translate(166.8,250.9)" text-anchor="end" style="font-family:'Liberation Serif',serif;font-weight:bold;font-size:7.0px" fill="#111" stroke="#111" stroke-width="0.2">&#964;<tspan dy="1.3" style="font-size:4.8px">1</tspan><tspan dy="-1.3"> = 1.37 &#956;s</tspan></text>
<text x="0" y="0" transform="translate(166.8,260.8)" text-anchor="end" style="font-family:'Liberation Serif',serif;font-weight:bold;font-size:7.0px" fill="#111" stroke="#111" stroke-width="0.2">&#964;<tspan dy="1.3" style="font-size:4.8px">2</tspan><tspan dy="-1.3"> = 9.45 &#956;s</tspan></text>
<text x="0" y="0" transform="translate(166.8,270.7)" text-anchor="end" style="font-family:'Liberation Serif',serif;font-weight:bold;font-size:7.0px" fill="#111" stroke="#111" stroke-width="0.2">&#964; = 5.17 &#956;s</text>
<rect x="25.20" y="162.00" width="149.30" height="120.20" fill="none" stroke="#2e2e2e" stroke-width="1.15"/>
<line x1="25.20" y1="282.20" x2="25.20" y2="284.20" stroke="#2e2e2e" stroke-width="1"/>
<text x="0" y="0" transform="translate(25.20,290.80) scale(1,1.15)" text-anchor="middle" style="font-family:'Liberation Sans',sans-serif;font-weight:bold;font-size:6px" fill="#111" stroke="#111" stroke-width="0.12">0</text>
<line x1="62.53" y1="282.20" x2="62.53" y2="284.20" stroke="#2e2e2e" stroke-width="1"/>
<text x="0" y="0" transform="translate(62.53,290.80) scale(1,1.15)" text-anchor="middle" style="font-family:'Liberation Sans',sans-serif;font-weight:bold;font-size:6px" fill="#111" stroke="#111" stroke-width="0.12">20</text>
<line x1="99.85" y1="282.20" x2="99.85" y2="284.20" stroke="#2e2e2e" stroke-width="1"/>
<text x="0" y="0" transform="translate(99.85,290.80) scale(1,1.15)" text-anchor="middle" style="font-family:'Liberation Sans',sans-serif;font-weight:bold;font-size:6px" fill="#111" stroke="#111" stroke-width="0.12">40</text>
<line x1="137.18" y1="282.20" x2="137.18" y2="284.20" stroke="#2e2e2e" stroke-width="1"/>
<text x="0" y="0" transform="translate(137.18,290.80) scale(1,1.15)" text-anchor="middle" style="font-family:'Liberation Sans',sans-serif;font-weight:bold;font-size:6px" fill="#111" stroke="#111" stroke-width="0.12">60</text>
<line x1="174.50" y1="282.20" x2="174.50" y2="284.20" stroke="#2e2e2e" stroke-width="1"/>
<text x="0" y="0" transform="translate(174.50,290.80) scale(1,1.15)" text-anchor="middle" style="font-family:'Liberation Sans',sans-serif;font-weight:bold;font-size:6px" fill="#111" stroke="#111" stroke-width="0.12">80</text>
<line x1="43.86" y1="282.20" x2="43.86" y2="283.40" stroke="#2e2e2e" stroke-width="0.9"/>
<line x1="81.19" y1="282.20" x2="81.19" y2="283.40" stroke="#2e2e2e" stroke-width="0.9"/>
<line x1="118.51" y1="282.20" x2="118.51" y2="283.40" stroke="#2e2e2e" stroke-width="0.9"/>
<line x1="155.84" y1="282.20" x2="155.84" y2="283.40" stroke="#2e2e2e" stroke-width="0.9"/>
<text x="0" y="0" transform="translate(100.40,299.00) scale(1,1.08)" text-anchor="middle" style="font-family:'Liberation Sans',sans-serif;font-weight:bold;font-size:6.7px" fill="#111" stroke="#111" stroke-width="0.1" >Time (&#956;s)</text>
<text x="0" y="0" text-anchor="middle" transform="translate(19.60,221.70) rotate(-90) scale(1,1.0)" style="font-family:'Liberation Sans',sans-serif;font-weight:bold;font-size:7.0px" fill="#111" stroke="#111" stroke-width="0.0">Intensity (a.u.)</text>
<text x="0" y="0" transform="translate(187.20,164.00) scale(1,0.95)" text-anchor="start" style="font-family:'Liberation Serif',serif;font-weight:bold;font-size:8.8px" fill="#111" stroke="#111" stroke-width="0.2" >e)</text>
<path d="M206.60,188.90 L209.90,189.40 L212.40,183.20 L214.90,181.90 L221.50,181.50 L223.10,181.20 L225.60,187.30 L229.70,190.60 L235.50,193.00 L237.10,187.30 L239.60,186.10 L246.20,185.60 L247.80,183.50 L249.40,186.50 L251.90,190.60 L257.70,193.90 L261.00,195.50 L263.40,189.80 L265.10,183.20 L267.60,181.50 L272.50,181.20 L274.10,184.80 L277.40,188.40 L286.90,191.30 L288.90,186.80 L291.90,183.40 L297.80,180.30 L299.80,181.50 L301.70,185.80 L304.70,188.80 L311.60,191.30 L313.60,186.80 L316.60,183.40 L319.50,181.50 L325.50,181.50 L327.40,185.80 L331.40,189.40 L337.30,192.70 L340.30,187.80 L342.80,183.40 L346.20,186.20 L350.20,186.80 L352.10,191.30 L355.60,194.70" fill="none" stroke="#7f9fdc" stroke-width="1.0" stroke-linejoin="round" stroke-linecap="round" />
<path d="M206.60,203.70 L209.90,205.40 L213.20,202.10 L218.20,202.90 L221.50,204.60 L229.70,210.30 L235.50,214.10 L237.90,212.00 L242.90,211.20 L248.60,212.50 L252.70,216.10 L261.00,218.60 L265.90,215.30 L272.50,214.80 L277.40,218.60 L286.90,221.00 L289.90,217.80 L299.80,217.40 L302.70,220.40 L311.60,221.80 L314.60,218.40 L324.50,218.00 L328.40,221.00 L337.30,222.40 L340.30,219.00 L349.20,218.40 L353.10,221.40 L355.60,222.40" fill="none" stroke="#1ebf9a" stroke-width="1.3" stroke-linejoin="round" stroke-linecap="round" />
<line x1="207" y1="280.4" x2="355.5" y2="280.4" stroke="#f6b9a6" stroke-width="1.8"/>
<line x1="207" y1="279.7" x2="311" y2="279.7" stroke="#e8553a" stroke-width="0.8" stroke-dasharray="1.5 1.5"/>
<line x1="311" y1="280.5" x2="355.5" y2="280.5" stroke="#f47c4a" stroke-width="1.0"/>
<line x1="222.5" y1="169.5" x2="222.5" y2="179.80" stroke="#e8202a" stroke-width="0.8"/>
<polygon points="222.5,183.3 220.70,179.80 224.30,179.80" fill="#e8202a"/>
<line x1="235.5" y1="177.8" x2="235.5" y2="184.90" stroke="#e8202a" stroke-width="0.8"/>
<polygon points="235.5,188.4 233.70,184.90 237.30,184.90" fill="#e8202a"/>
<line x1="259.2" y1="277.6" x2="259.2" y2="271.50" stroke="#e8202a" stroke-width="1.1"/>
<polygon points="259.2,267.0 257.20,271.50 261.20,271.50" fill="#e8202a"/>
<text x="0" y="0" transform="translate(222.60,168.30) scale(1,1.03)" text-anchor="middle" style="font-family:'Liberation Serif',serif;font-weight:bold;font-size:6.3px" fill="#111" stroke="#111" stroke-width="0.16" >OFF</text>
<text x="0" y="0" transform="translate(236.30,175.80) scale(1,1.03)" text-anchor="middle" style="font-family:'Liberation Serif',serif;font-weight:bold;font-size:6.3px" fill="#111" stroke="#111" stroke-width="0.16" >ON</text>
<rect x="221.2" y="223.0" width="57.8" height="42.0" fill="#fff" stroke="#999" stroke-width="0.8"/>
<line x1="219.9" y1="223.0" x2="221.2" y2="223.0" stroke="#999" stroke-width="0.6"/>
<text x="0" y="0" transform="translate(219.60,224.50) scale(1,1.08)" text-anchor="end" style="font-family:'Liberation Sans',sans-serif;font-weight:bold;font-size:4.2px" fill="#222" stroke="#222" stroke-width="0.1" >0.02</text>
<line x1="219.9" y1="244.5" x2="221.2" y2="244.5" stroke="#999" stroke-width="0.6"/>
<text x="0" y="0" transform="translate(219.60,246.00) scale(1,1.08)" text-anchor="end" style="font-family:'Liberation Sans',sans-serif;font-weight:bold;font-size:4.2px" fill="#222" stroke="#222" stroke-width="0.1" >0.01</text>
<line x1="219.9" y1="265.0" x2="221.2" y2="265.0" stroke="#999" stroke-width="0.6"/>
<text x="0" y="0" transform="translate(219.60,266.50) scale(1,1.08)" text-anchor="end" style="font-family:'Liberation Sans',sans-serif;font-weight:bold;font-size:4.2px" fill="#222" stroke="#222" stroke-width="0.1" >0.00</text>
<text x="0" y="0" transform="translate(222.40,270.60) scale(1,1.08)" text-anchor="middle" style="font-family:'Liberation Sans',sans-serif;font-weight:bold;font-size:4.2px" fill="#222" stroke="#222" stroke-width="0.1" >0</text>
<text x="0" y="0" transform="translate(236.80,270.60) scale(1,1.08)" text-anchor="middle" style="font-family:'Liberation Sans',sans-serif;font-weight:bold;font-size:4.2px" fill="#222" stroke="#222" stroke-width="0.1" >100</text>
<text x="0" y="0" transform="translate(251.10,270.60) scale(1,1.08)" text-anchor="middle" style="font-family:'Liberation Sans',sans-serif;font-weight:bold;font-size:4.2px" fill="#222" stroke="#222" stroke-width="0.1" >200</text>
<text x="0" y="0" transform="translate(265.30,270.60) scale(1,1.08)" text-anchor="middle" style="font-family:'Liberation Sans',sans-serif;font-weight:bold;font-size:4.2px" fill="#222" stroke="#222" stroke-width="0.1" >300</text>
<text x="0" y="0" transform="translate(279.60,270.60) scale(1,1.08)" text-anchor="middle" style="font-family:'Liberation Sans',sans-serif;font-weight:bold;font-size:4.2px" fill="#222" stroke="#222" stroke-width="0.1" >400</text>
<path d="M221.40,241.10 L221.61,240.87 L221.88,240.54 L222.21,240.14 L222.57,239.71 L222.97,239.29 L223.38,238.91 L223.79,238.60 L224.20,238.40 L224.61,238.28 L225.03,238.20 L225.46,238.16 L225.90,238.18 L226.36,238.26 L226.82,238.41 L227.31,238.66 L227.80,239.00 L228.32,239.50 L228.86,240.16 L229.43,240.94 L230.00,241.78 L230.57,242.63 L231.14,243.44 L231.68,244.14 L232.20,244.70 L232.68,245.14 L233.14,245.53 L233.57,245.86 L234.00,246.12 L234.43,246.32 L234.86,246.43 L235.32,246.46 L235.80,246.40 L236.32,246.19 L236.86,245.81 L237.43,245.31 L238.00,244.76 L238.57,244.18 L239.14,243.65 L239.68,243.21 L240.20,242.90 L240.66,242.70 L241.07,242.53 L241.45,242.41 L241.83,242.35 L242.23,242.36 L242.67,242.45 L243.19,242.62 L243.80,242.90 L244.53,243.37 L245.37,244.06 L246.29,244.89 L247.24,245.77 L248.22,246.62 L249.17,247.37 L250.07,247.92 L250.90,248.20 L251.66,248.15 L252.39,247.84 L253.09,247.34 L253.77,246.72 L254.42,246.08 L255.04,245.47 L255.63,244.99 L256.20,244.70 L256.73,244.59 L257.22,244.58 L257.68,244.64 L258.11,244.77 L258.53,244.94 L258.95,245.15 L259.37,245.38 L259.80,245.60 L260.24,245.86 L260.68,246.19 L261.12,246.56 L261.55,246.96 L261.98,247.34 L262.42,247.69 L262.86,247.99 L263.30,248.20 L263.74,248.34 L264.17,248.44 L264.61,248.50 L265.04,248.53 L265.49,248.50 L265.94,248.44 L266.41,248.34 L266.90,248.20 L267.42,247.98 L267.98,247.65 L268.57,247.27 L269.16,246.85 L269.74,246.44 L270.30,246.07 L270.83,245.78 L271.30,245.60 L271.70,245.52 L272.05,245.52 L272.34,245.57 L272.63,245.67 L272.91,245.81 L273.22,245.99 L273.57,246.19 L274.00,246.40 L274.53,246.67 L275.16,247.00 L275.86,247.39 L276.57,247.80 L277.26,248.20 L277.89,248.57 L278.42,248.88 L278.80,249.10" fill="none" stroke="#f47c4a" stroke-width="1.0" stroke-linejoin="round" stroke-linecap="round" />
<rect x="206.50" y="161.90" width="149.50" height="120.30" fill="none" stroke="#2e2e2e" stroke-width="1.15"/>
<line x1="210.75" y1="282.20" x2="210.75" y2="284.20" stroke="#2e2e2e" stroke-width="1"/>
<text x="0" y="0" transform="translate(210.75,290.80) scale(1,1.15)" text-anchor="middle" style="font-family:'Liberation Sans',sans-serif;font-weight:bold;font-size:6px" fill="#111" stroke="#111" stroke-width="0.12">80</text>
<line x1="235.96" y1="282.20" x2="235.96" y2="284.20" stroke="#2e2e2e" stroke-width="1"/>
<text x="0" y="0" transform="translate(235.96,290.80) scale(1,1.15)" text-anchor="middle" style="font-family:'Liberation Sans',sans-serif;font-weight:bold;font-size:6px" fill="#111" stroke="#111" stroke-width="0.12">160</text>
<line x1="261.16" y1="282.20" x2="261.16" y2="284.20" stroke="#2e2e2e" stroke-width="1"/>
<text x="0" y="0" transform="translate(261.16,290.80) scale(1,1.15)" text-anchor="middle" style="font-family:'Liberation Sans',sans-serif;font-weight:bold;font-size:6px" fill="#111" stroke="#111" stroke-width="0.12">240</text>
<line x1="286.37" y1="282.20" x2="286.37" y2="284.20" stroke="#2e2e2e" stroke-width="1"/>
<text x="0" y="0" transform="translate(286.37,290.80) scale(1,1.15)" text-anchor="middle" style="font-family:'Liberation Sans',sans-serif;font-weight:bold;font-size:6px" fill="#111" stroke="#111" stroke-width="0.12">320</text>
<line x1="311.58" y1="282.20" x2="311.58" y2="284.20" stroke="#2e2e2e" stroke-width="1"/>
<text x="0" y="0" transform="translate(311.58,290.80) scale(1,1.15)" text-anchor="middle" style="font-family:'Liberation Sans',sans-serif;font-weight:bold;font-size:6px" fill="#111" stroke="#111" stroke-width="0.12">400</text>
<line x1="336.78" y1="282.20" x2="336.78" y2="284.20" stroke="#2e2e2e" stroke-width="1"/>
<text x="0" y="0" transform="translate(336.78,290.80) scale(1,1.15)" text-anchor="middle" style="font-family:'Liberation Sans',sans-serif;font-weight:bold;font-size:6px" fill="#111" stroke="#111" stroke-width="0.12">480</text>
<line x1="223.36" y1="282.20" x2="223.36" y2="283.40" stroke="#2e2e2e" stroke-width="0.9"/>
<line x1="248.56" y1="282.20" x2="248.56" y2="283.40" stroke="#2e2e2e" stroke-width="0.9"/>
<line x1="273.77" y1="282.20" x2="273.77" y2="283.40" stroke="#2e2e2e" stroke-width="0.9"/>
<line x1="298.97" y1="282.20" x2="298.97" y2="283.40" stroke="#2e2e2e" stroke-width="0.9"/>
<line x1="324.18" y1="282.20" x2="324.18" y2="283.40" stroke="#2e2e2e" stroke-width="0.9"/>
<line x1="349.38" y1="282.20" x2="349.38" y2="283.40" stroke="#2e2e2e" stroke-width="0.9"/>
<line x1="204.50" y1="282.20" x2="206.50" y2="282.20" stroke="#2e2e2e" stroke-width="1"/>
<text x="0" y="0" transform="translate(203.20,284.70) scale(1,1.15)" text-anchor="end" style="font-family:'Liberation Sans',sans-serif;font-weight:bold;font-size:6.4px" fill="#111" stroke="#111" stroke-width="0.12">0.0</text>
<line x1="204.50" y1="252.12" x2="206.50" y2="252.12" stroke="#2e2e2e" stroke-width="1"/>
<text x="0" y="0" transform="translate(203.20,254.62) scale(1,1.15)" text-anchor="end" style="font-family:'Liberation Sans',sans-serif;font-weight:bold;font-size:6.4px" fill="#111" stroke="#111" stroke-width="0.12">0.2</text>
<line x1="204.50" y1="222.05" x2="206.50" y2="222.05" stroke="#2e2e2e" stroke-width="1"/>
<text x="0" y="0" transform="translate(203.20,224.55) scale(1,1.15)" text-anchor="end" style="font-family:'Liberation Sans',sans-serif;font-weight:bold;font-size:6.4px" fill="#111" stroke="#111" stroke-width="0.12">0.4</text>
<line x1="204.50" y1="191.98" x2="206.50" y2="191.98" stroke="#2e2e2e" stroke-width="1"/>
<text x="0" y="0" transform="translate(203.20,194.48) scale(1,1.15)" text-anchor="end" style="font-family:'Liberation Sans',sans-serif;font-weight:bold;font-size:6.4px" fill="#111" stroke="#111" stroke-width="0.12">0.6</text>
<line x1="204.50" y1="161.90" x2="206.50" y2="161.90" stroke="#2e2e2e" stroke-width="1"/>
<text x="0" y="0" transform="translate(203.20,164.40) scale(1,1.15)" text-anchor="end" style="font-family:'Liberation Sans',sans-serif;font-weight:bold;font-size:6.4px" fill="#111" stroke="#111" stroke-width="0.12">0.8</text>
<line x1="205.30" y1="267.16" x2="206.50" y2="267.16" stroke="#2e2e2e" stroke-width="0.9"/>
<line x1="205.30" y1="237.09" x2="206.50" y2="237.09" stroke="#2e2e2e" stroke-width="0.9"/>
<line x1="205.30" y1="207.01" x2="206.50" y2="207.01" stroke="#2e2e2e" stroke-width="0.9"/>
<line x1="205.30" y1="176.94" x2="206.50" y2="176.94" stroke="#2e2e2e" stroke-width="0.9"/>
<text x="0" y="0" transform="translate(282.00,299.00) scale(1,1.08)" text-anchor="middle" style="font-family:'Liberation Sans',sans-serif;font-weight:bold;font-size:6.7px" fill="#111" stroke="#111" stroke-width="0.1" >Time (s)</text>
<text x="0" y="0" text-anchor="middle" transform="translate(191.6,220.2) rotate(-90)" style="font-family:'Liberation Sans',sans-serif;font-weight:bold;font-size:7.5px" fill="#111">Current (mA/cm<tspan dy="-2" style="font-size:4.5px">2</tspan><tspan dy="2">)</tspan></text>
<line x1="287.5" y1="241.0" x2="302.5" y2="241.0" stroke="#1ebf9a" stroke-width="1.55"/>
<text x="0" y="0" transform="translate(304.50,243.40) scale(1,1.03)" text-anchor="start" style="font-family:'Liberation Serif',serif;font-weight:bold;font-size:6.8px" fill="#111" stroke="#111" stroke-width="0.16" >0.3 wt% Cu-ZnS</text>
<line x1="287.5" y1="250.5" x2="302.5" y2="250.5" stroke="#7f9fdc" stroke-width="1.55"/>
<text x="0" y="0" transform="translate(304.50,252.90) scale(1,1.03)" text-anchor="start" style="font-family:'Liberation Serif',serif;font-weight:bold;font-size:6.8px" fill="#111" stroke="#111" stroke-width="0.16" >0.6 wt% Cu-ZnS</text>
<line x1="287.5" y1="259.8" x2="302.5" y2="259.8" stroke="#f47c4a" stroke-width="1.55"/>
<text x="0" y="0" transform="translate(304.50,262.20) scale(1,1.03)" text-anchor="start" style="font-family:'Liberation Serif',serif;font-weight:bold;font-size:6.8px" fill="#111" stroke="#111" stroke-width="0.16" >10 wt% Cu-ZnS</text>
<text x="0" y="0" transform="translate(367.20,163.80) scale(1,0.95)" text-anchor="start" style="font-family:'Liberation Serif',serif;font-weight:bold;font-size:8.8px" fill="#111" stroke="#111" stroke-width="0.2" >f)</text>
<clipPath id="clipf"><rect x="390.8" y="161.5" width="149.4" height="120.4"/></clipPath>
<g clip-path="url(#clipf)">
<path d="M393.12,281.62 L393.32,280.83 L393.53,280.06 L393.76,279.30 L394.00,278.54 L394.25,277.80 L394.52,277.07 L394.80,276.35 L395.09,275.64 L395.39,274.95 L395.70,274.27 L396.03,273.61 L396.36,272.96 L396.71,272.33 L397.07,271.71 L397.43,271.11 L397.81,270.53 L398.20,269.96 L398.60,269.41 L399.00,268.88 L399.42,268.37 L399.84,267.88 L400.27,267.40 L400.71,266.95 L401.16,266.51 L401.61,266.10 L402.07,265.71 L402.54,265.34 L403.01,264.99 L403.49,264.66 L403.98,264.35 L404.47,264.06 L404.96,263.80 L405.46,263.56 L405.96,263.34 L406.47,263.15 L406.98,262.98 L407.49,262.83 L408.00,262.70 L408.52,262.60 L409.04,262.52 L409.56,262.47 L410.08,262.44 L410.60,262.43 L411.12,262.45 L411.63,262.49 L412.15,262.55 L412.67,262.63 L413.19,262.74 L413.70,262.88 L414.21,263.03 L414.72,263.21 L415.22,263.41 L415.72,263.64 L416.22,263.89 L416.71,264.16 L417.20,264.45 L417.69,264.76 L418.16,265.10 L418.63,265.46 L419.10,265.83 L419.56,266.23 L420.01,266.65 L420.45,267.10 L420.89,267.56 L421.32,268.04 L421.74,268.54 L422.15,269.05 L422.56,269.59 L422.95,270.15 L423.33,270.72 L423.71,271.31 L424.07,271.91 L424.43,272.54 L424.77,273.17 L425.10,273.83 L425.42,274.50 L425.73,275.18 L426.03,275.88 L426.32,276.59 L426.59,277.31" fill="none" stroke="#1ebf9a" stroke-width="1.15" stroke-linecap="round"/>
<path d="M392.83,284.88 L393.29,282.35 L393.80,279.84 L394.36,277.35 L394.96,274.88 L395.61,272.44 L396.30,270.02 L397.04,267.62 L397.82,265.26 L398.64,262.93 L399.51,260.63 L400.41,258.36 L401.36,256.12 L402.35,253.93 L403.38,251.77 L404.45,249.65 L405.56,247.57 L406.70,245.54 L407.88,243.55 L409.10,241.60 L410.36,239.70 L411.64,237.85 L412.97,236.05 L414.32,234.30 L415.71,232.60 L417.12,230.95 L418.57,229.36 L420.04,227.82 L421.55,226.34 L423.08,224.92 L424.63,223.55 L426.21,222.24 L427.81,221.00 L429.44,219.81 L431.09,218.69 L432.75,217.63 L434.44,216.63 L436.14,215.69 L437.86,214.82 L439.60,214.02 L441.35,213.28 L443.11,212.61 L444.88,212.00 L446.67,211.47 L448.46,210.99 L450.26,210.59 L452.07,210.26 L453.89,209.99 L455.71,209.79 L457.53,209.66 L459.35,209.60 L461.17,209.61 L463.00,209.69 L464.82,209.84 L466.64,210.05 L468.45,210.34 L470.26,210.69 L472.06,211.11 L473.85,211.60 L475.63,212.15 L477.40,212.77 L479.16,213.46 L480.91,214.22 L482.64,215.04 L484.35,215.92 L486.05,216.88 L487.73,217.89 L489.39,218.97 L491.04,220.11 L492.66,221.31 L494.25,222.57 L495.83,223.89 L497.38,225.27 L498.90,226.71 L500.39,228.21 L501.86,229.76 L503.30,231.37 L504.71,233.03 L506.09,234.74 L507.43,236.50 L508.75,238.32" fill="none" stroke="#7f9fdc" stroke-width="1.0" stroke-linecap="round"/>
<path d="M393.58,283.97 L394.31,280.80 L395.08,277.65 L395.90,274.53 L396.77,271.42 L397.68,268.35 L398.63,265.29 L399.63,262.27 L400.68,259.27 L401.76,256.31 L402.90,253.37 L404.07,250.47 L405.29,247.60 L406.55,244.76 L407.84,241.96 L409.19,239.20 L410.57,236.48 L411.99,233.79 L413.45,231.15 L414.94,228.55 L416.48,225.99 L418.05,223.47 L419.66,221.00 L421.31,218.57 L422.99,216.19 L424.71,213.86 L426.46,211.58 L428.24,209.34 L430.05,207.16 L431.90,205.03 L433.78,202.95 L435.69,200.92 L437.62,198.95 L439.59,197.03 L441.58,195.17 L443.60,193.36 L445.65,191.61 L447.72,189.92 L449.82,188.29 L451.94,186.72 L454.08,185.20 L456.25,183.75 L458.43,182.36 L460.64,181.02 L462.86,179.76 L465.10,178.55 L467.36,177.41 L469.64,176.33 L471.93,175.31 L474.23,174.36 L476.55,173.47 L478.89,172.65 L481.23,171.90 L483.58,171.21 L485.95,170.58 L488.32,170.03 L490.70,169.54 L493.09,169.11 L495.48,168.76 L497.88,168.47 L500.28,168.24 L502.68,168.09 L505.09,168.00 L507.49,167.98 L509.90,168.03 L512.30,168.14 L514.71,168.33 L517.10,168.58 L519.50,168.89 L521.89,169.28 L524.27,169.73 L526.65,170.25 L529.02,170.83 L531.38,171.48 L533.73,172.20 L536.07,172.98 L538.40,173.83 L540.71,174.74 L543.01,175.72 L545.29,176.76 L547.56,177.87" fill="none" stroke="#f47c4a" stroke-width="1.0" stroke-linecap="round"/>
</g>
<rect x="390.80" y="161.50" width="149.40" height="120.40" fill="none" stroke="#2e2e2e" stroke-width="1.15"/>
<line x1="390.80" y1="281.90" x2="390.80" y2="283.90" stroke="#2e2e2e" stroke-width="1"/>
<text x="0" y="0" transform="translate(390.80,288.90) scale(1,1.15)" text-anchor="middle" style="font-family:'Liberation Sans',sans-serif;font-weight:bold;font-size:6px" fill="#111" stroke="#111" stroke-width="0.12">0</text>
<line x1="440.60" y1="281.90" x2="440.60" y2="283.90" stroke="#2e2e2e" stroke-width="1"/>
<text x="0" y="0" transform="translate(440.60,288.90) scale(1,1.15)" text-anchor="middle" style="font-family:'Liberation Sans',sans-serif;font-weight:bold;font-size:6px" fill="#111" stroke="#111" stroke-width="0.12">500</text>
<line x1="490.40" y1="281.90" x2="490.40" y2="283.90" stroke="#2e2e2e" stroke-width="1"/>
<text x="0" y="0" transform="translate(490.40,288.90) scale(1,1.15)" text-anchor="middle" style="font-family:'Liberation Sans',sans-serif;font-weight:bold;font-size:6px" fill="#111" stroke="#111" stroke-width="0.12">1000</text>
<line x1="540.20" y1="281.90" x2="540.20" y2="283.90" stroke="#2e2e2e" stroke-width="1"/>
<text x="0" y="0" transform="translate(540.20,288.90) scale(1,1.15)" text-anchor="middle" style="font-family:'Liberation Sans',sans-serif;font-weight:bold;font-size:6px" fill="#111" stroke="#111" stroke-width="0.12">1500</text>
<line x1="415.70" y1="281.90" x2="415.70" y2="283.10" stroke="#2e2e2e" stroke-width="0.9"/>
<line x1="465.50" y1="281.90" x2="465.50" y2="283.10" stroke="#2e2e2e" stroke-width="0.9"/>
<line x1="515.30" y1="281.90" x2="515.30" y2="283.10" stroke="#2e2e2e" stroke-width="0.9"/>
<line x1="388.80" y1="281.90" x2="390.80" y2="281.90" stroke="#2e2e2e" stroke-width="1"/>
<text x="0" y="0" transform="translate(387.50,284.40) scale(1,1.15)" text-anchor="end" style="font-family:'Liberation Sans',sans-serif;font-weight:bold;font-size:6.4px" fill="#111" stroke="#111" stroke-width="0.12">0</text>
<line x1="388.80" y1="257.82" x2="390.80" y2="257.82" stroke="#2e2e2e" stroke-width="1"/>
<text x="0" y="0" transform="translate(387.50,260.32) scale(1,1.15)" text-anchor="end" style="font-family:'Liberation Sans',sans-serif;font-weight:bold;font-size:6.4px" fill="#111" stroke="#111" stroke-width="0.12">200</text>
<line x1="388.80" y1="233.74" x2="390.80" y2="233.74" stroke="#2e2e2e" stroke-width="1"/>
<text x="0" y="0" transform="translate(387.50,236.24) scale(1,1.15)" text-anchor="end" style="font-family:'Liberation Sans',sans-serif;font-weight:bold;font-size:6.4px" fill="#111" stroke="#111" stroke-width="0.12">400</text>
<line x1="388.80" y1="209.66" x2="390.80" y2="209.66" stroke="#2e2e2e" stroke-width="1"/>
<text x="0" y="0" transform="translate(387.50,212.16) scale(1,1.15)" text-anchor="end" style="font-family:'Liberation Sans',sans-serif;font-weight:bold;font-size:6.4px" fill="#111" stroke="#111" stroke-width="0.12">600</text>
<line x1="388.80" y1="185.58" x2="390.80" y2="185.58" stroke="#2e2e2e" stroke-width="1"/>
<text x="0" y="0" transform="translate(387.50,188.08) scale(1,1.15)" text-anchor="end" style="font-family:'Liberation Sans',sans-serif;font-weight:bold;font-size:6.4px" fill="#111" stroke="#111" stroke-width="0.12">800</text>
<line x1="388.80" y1="161.50" x2="390.80" y2="161.50" stroke="#2e2e2e" stroke-width="1"/>
<text x="0" y="0" transform="translate(387.50,164.00) scale(1,1.15)" text-anchor="end" style="font-family:'Liberation Sans',sans-serif;font-weight:bold;font-size:6.4px" fill="#111" stroke="#111" stroke-width="0.12">1000</text>
<line x1="389.60" y1="269.86" x2="390.80" y2="269.86" stroke="#2e2e2e" stroke-width="0.9"/>
<line x1="389.60" y1="245.78" x2="390.80" y2="245.78" stroke="#2e2e2e" stroke-width="0.9"/>
<line x1="389.60" y1="221.70" x2="390.80" y2="221.70" stroke="#2e2e2e" stroke-width="0.9"/>
<line x1="389.60" y1="197.62" x2="390.80" y2="197.62" stroke="#2e2e2e" stroke-width="0.9"/>
<line x1="389.60" y1="173.54" x2="390.80" y2="173.54" stroke="#2e2e2e" stroke-width="0.9"/>
<text x="0" y="0" transform="translate(465.30,297.90) scale(1,1.08)" text-anchor="middle" style="font-family:'Liberation Sans',sans-serif;font-weight:bold;font-size:7.0px" fill="#111" stroke="#111" stroke-width="0.1" >Z'/ohm</text>
<text x="0" y="0" text-anchor="middle" transform="translate(370.80,219.60) rotate(-90) scale(1,1.15)" style="font-family:'Liberation Sans',sans-serif;font-weight:bold;font-size:7.0px" fill="#111" stroke="#111" stroke-width="0.12">-Z''/ohm</text>
<line x1="469.5" y1="252.3" x2="484.5" y2="252.3" stroke="#7f9fdc" stroke-width="1.55"/>
<text x="0" y="0" transform="translate(486.80,254.70) scale(1,1.03)" text-anchor="start" style="font-family:'Liberation Serif',serif;font-weight:bold;font-size:6.8px" fill="#111" stroke="#111" stroke-width="0.16" >0.3 wt% Cu-ZnS</text>
<line x1="469.5" y1="260.5" x2="484.5" y2="260.5" stroke="#1ebf9a" stroke-width="1.55"/>
<text x="0" y="0" transform="translate(486.80,262.90) scale(1,1.03)" text-anchor="start" style="font-family:'Liberation Serif',serif;font-weight:bold;font-size:6.8px" fill="#111" stroke="#111" stroke-width="0.16" >0.6 wt% Cu-ZnS</text>
<line x1="469.5" y1="268.5" x2="484.5" y2="268.5" stroke="#f47c4a" stroke-width="1.55"/>
<text x="0" y="0" transform="translate(486.80,270.90) scale(1,1.03)" text-anchor="start" style="font-family:'Liberation Serif',serif;font-weight:bold;font-size:6.8px" fill="#111" stroke="#111" stroke-width="0.16" >10 wt% Cu-ZnS</text>
</svg>
</body></html>
